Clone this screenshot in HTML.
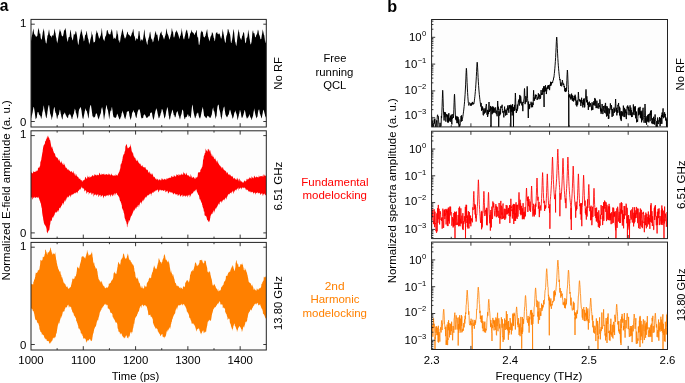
<!DOCTYPE html>
<html><head><meta charset="utf-8"><title>figure</title><style>
html,body{margin:0;padding:0;background:#fff;}
body{width:685px;height:383px;overflow:hidden;position:relative;font-family:"Liberation Sans",sans-serif;}
svg{position:absolute;left:0;top:0;display:block;will-change:transform;}
</style></head><body>
<svg width="685" height="383" viewBox="0 0 685 383" font-family='"Liberation Sans", sans-serif' font-size="11">
<defs>
<clipPath id="cl0"><rect x="31" y="19.4" width="235.3" height="107.6"/></clipPath>
<clipPath id="cr0"><rect x="431.6" y="19.5" width="235.9" height="107.4"/></clipPath>
<clipPath id="cl1"><rect x="31" y="130.8" width="235.3" height="107.6"/></clipPath>
<clipPath id="cr1"><rect x="431.6" y="131.2" width="235.9" height="107.4"/></clipPath>
<clipPath id="cl2"><rect x="31" y="242.4" width="235.3" height="107.6"/></clipPath>
<clipPath id="cr2"><rect x="431.6" y="242.1" width="235.9" height="107.4"/></clipPath>
</defs>
<rect x="31" y="19.4" width="235.3" height="107.6" fill="#fdfdfd"/>
<rect x="431.6" y="19.5" width="235.9" height="107.4" fill="#fdfdfd"/>
<rect x="31" y="130.8" width="235.3" height="107.6" fill="#fdfdfd"/>
<rect x="431.6" y="131.2" width="235.9" height="107.4" fill="#fdfdfd"/>
<rect x="31" y="242.4" width="235.3" height="107.6" fill="#fdfdfd"/>
<rect x="431.6" y="242.1" width="235.9" height="107.4" fill="#fdfdfd"/>
<g clip-path="url(#cl0)">
<polygon fill="#000" points="31,40.95 31.25,39.4 31.5,37.6 31.75,36.45 32,35.28 32.25,34.45 32.5,33 32.75,31.4 33,30.38 33.25,29.13 33.5,28.39 33.75,31.16 34,32.66 34.25,34.16 34.5,34.78 34.75,34.38 35,34.32 35.25,35.41 35.5,35.65 35.75,36.05 36,37.33 36.25,36.87 36.5,36.44 36.75,36.27 37,36.19 37.25,35.98 37.5,34.38 37.75,32.23 38,30.21 38.25,29.59 38.5,27.43 38.75,29 39,29.59 39.25,31.32 39.5,32.94 39.75,33.82 40,33.75 40.25,33.22 40.5,35.47 40.75,38.1 41,38.81 41.25,39.24 41.5,39.68 41.75,39.19 42,38.02 42.25,35.99 42.5,34.8 42.75,32.44 43,31.4 43.25,30.85 43.5,29.48 43.75,28.21 44,30.16 44.25,31.82 44.5,34.28 44.75,36.4 45,38.86 45.25,39.91 45.5,41.1 45.75,42.81 46,42.96 46.25,43.84 46.5,43.03 46.75,41.13 47,39.11 47.25,37.68 47.5,35.07 47.75,35.53 48,35.21 48.25,33.41 48.5,32.02 48.75,30.81 49,29.36 49.25,30.56 49.5,32.8 49.75,34.06 50,35.2 50.25,35.82 50.5,36.37 50.75,35.86 51,35.41 51.25,36.23 51.5,37.21 51.75,37.71 52,36.47 52.25,34.63 52.5,35.61 52.75,35.5 53,35.39 53.25,35.91 53.5,34.69 53.75,34.06 54,32.54 54.25,30.77 54.5,28.59 54.75,29.43 55,30.68 55.25,32.65 55.5,32.94 55.75,35.21 56,36.76 56.25,37.63 56.5,38.82 56.75,41.16 57,41.75 57.25,43.39 57.5,42.1 57.75,40.85 58,39.52 58.25,37.79 58.5,36.18 58.75,34.79 59,33.27 59.25,31.88 59.5,30.99 59.75,29.72 60,28.64 60.25,30.4 60.5,31.4 60.75,31.19 61,32.13 61.25,33.35 61.5,34.72 61.75,35.59 62,36.04 62.25,35.92 62.5,36.68 62.75,35.94 63,36.31 63.25,34.95 63.5,33.92 63.75,32.57 64,30.71 64.25,30.39 64.5,29.86 64.75,30.21 65,28.69 65.25,28.44 65.5,28.2 65.75,30.06 66,31.04 66.25,33.76 66.5,35.48 66.75,37.64 67,39.12 67.25,39.95 67.5,41.38 67.75,41.82 68,40.83 68.25,39.13 68.5,37.11 68.75,37.4 69,37.29 69.25,37.07 69.5,37.04 69.75,35.31 70,32.87 70.25,29.7 70.5,29.9 70.75,31.15 71,32.57 71.25,34.18 71.5,36.69 71.75,37.56 72,38.52 72.25,39.19 72.5,39.92 72.75,40.58 73,39.74 73.25,37.65 73.5,35.99 73.75,34.51 74,33.54 74.25,34.16 74.5,34.2 74.75,35.17 75,34.1 75.25,33.39 75.5,31.42 75.75,31.34 76,31.35 76.25,32.03 76.5,33.24 76.75,34.51 77,35.85 77.25,37.97 77.5,40.14 77.75,42.24 78,44.05 78.25,45.12 78.5,44.57 78.75,42.74 79,40.27 79.25,39.35 79.5,38.56 79.75,36.84 80,35.03 80.25,34.28 80.5,33.26 80.75,32.13 81,29.68 81.25,29.09 81.5,30.77 81.75,31.72 82,32.25 82.25,33.74 82.5,35.03 82.75,35.67 83,37.02 83.25,38.2 83.5,39.05 83.75,41.14 84,41.21 84.25,40.57 84.5,39.32 84.75,37.45 85,35.81 85.25,34.53 85.5,35.27 85.75,34.69 86,33.93 86.25,32.61 86.5,30.78 86.75,31.3 87,32.86 87.25,34.75 87.5,35.68 87.75,37.45 88,38.33 88.25,39.28 88.5,39.59 88.75,41.39 89,43.3 89.25,44.73 89.5,43.31 89.75,42.56 90,41.94 90.25,39.93 90.5,38.94 90.75,38.15 91,37.1 91.25,36.52 91.5,34.11 91.75,30.56 92,33.42 92.25,34.67 92.5,34.4 92.75,35.68 93,38.09 93.25,40.26 93.5,41.82 93.75,42.39 94,42.76 94.25,41.82 94.5,42.07 94.75,42.32 95,41.5 95.25,39.67 95.5,37.05 95.75,34.53 96,33.7 96.25,32.92 96.5,31.39 96.75,29.95 97,31.37 97.25,32.51 97.5,33.03 97.75,32.81 98,34.53 98.25,35.62 98.5,36.23 98.75,37.11 99,38.79 99.25,38.74 99.5,38.07 99.75,37.66 100,37.18 100.25,36.35 100.5,36.03 100.75,35.29 101,34.02 101.25,32.76 101.5,30.58 101.75,27.73 102,29.59 102.25,32.68 102.5,35.01 102.75,36.61 103,38.33 103.25,39.03 103.5,39.56 103.75,40.02 104,40.48 104.25,41.54 104.5,39.98 104.75,39.13 105,37.44 105.25,37.1 105.5,36.23 105.75,35.65 106,35.7 106.25,34.44 106.5,32.93 106.75,30.42 107,30.7 107.25,30.11 107.5,29.95 107.75,30.41 108,31.98 108.25,32.48 108.5,33.18 108.75,34.1 109,34.21 109.25,34.26 109.5,34.08 109.75,34.54 110,34.8 110.25,34.23 110.5,33.96 110.75,32.24 111,32.01 111.25,30.68 111.5,30.22 111.75,28.64 112,29.78 112.25,31.14 112.5,32.69 112.75,34.49 113,36.12 113.25,37.16 113.5,38.63 113.75,38.88 114,38.22 114.25,37.38 114.5,37.74 114.75,38.18 115,39.19 115.25,38.87 115.5,38.69 115.75,38.04 116,36.83 116.25,35.83 116.5,33.39 116.75,30.55 117,29.99 117.25,31.6 117.5,33.58 117.75,34.41 118,34.36 118.25,37.61 118.5,40.07 118.75,40.84 119,40.62 119.25,39.88 119.5,42.34 119.75,42.83 120,42.2 120.25,40.33 120.5,38.35 120.75,36.71 121,35.42 121.25,34.75 121.5,33.27 121.75,32.21 122,30.8 122.25,28.71 122.5,29 122.75,30.38 123,31.35 123.25,32.59 123.5,33.9 123.75,34.75 124,35.73 124.25,36.53 124.5,37.74 124.75,38.33 125,38.55 125.25,38.45 125.5,38.08 125.75,36.83 126,37.13 126.25,35.74 126.5,34.79 126.75,34.23 127,33.03 127.25,31.97 127.5,31.69 127.75,31.81 128,33.62 128.25,34.64 128.5,34.26 128.75,34.46 129,34.63 129.25,35.45 129.5,34.79 129.75,35.47 130,36.31 130.25,36.89 130.5,36.25 130.75,36.26 131,35.72 131.25,35.35 131.5,34.8 131.75,33.56 132,32.65 132.25,32.81 132.5,32.09 132.75,31.21 133,29.13 133.25,28.76 133.5,30.61 133.75,32.45 134,34.79 134.25,36.03 134.5,36 134.75,36.95 135,37.61 135.25,39.24 135.5,40.22 135.75,40.89 136,40.35 136.25,38.49 136.5,37.83 136.75,38.75 137,38.75 137.25,39.39 137.5,39.12 137.75,38.67 138,37.06 138.25,35.72 138.5,33.17 138.75,30.94 139,31 139.25,30.92 139.5,31.95 139.75,34.89 140,36.35 140.25,39.03 140.5,39.95 140.75,41.46 141,40.45 141.25,40.1 141.5,38.86 141.75,39.75 142,39.76 142.25,40.63 142.5,40.38 142.75,39.49 143,38.9 143.25,37.74 143.5,35.71 143.75,33.94 144,31.2 144.25,30.36 144.5,29.11 144.75,32.72 145,35.68 145.25,36.95 145.5,37.95 145.75,38.63 146,39.61 146.25,41.42 146.5,41.87 146.75,43.09 147,44.29 147.25,44.87 147.5,44.58 147.75,41.35 148,40.23 148.25,39.71 148.5,38.45 148.75,37.75 149,37.09 149.25,36.3 149.5,34.29 149.75,32.73 150,31.77 150.25,31.8 150.5,33.63 150.75,34.93 151,37.62 151.25,38.29 151.5,39.32 151.75,39.3 152,39.36 152.25,39.45 152.5,40.64 152.75,42.33 153,42.27 153.25,41.53 153.5,41.02 153.75,38.98 154,37.82 154.25,37.4 154.5,36.21 154.75,34.48 155,33.21 155.25,32.65 155.5,31.82 155.75,30.84 156,32.01 156.25,33.77 156.5,34.61 156.75,35.23 157,34.79 157.25,34.31 157.5,35.54 157.75,37.29 158,39.07 158.25,40.07 158.5,41.33 158.75,41.15 159,39.51 159.25,37.83 159.5,36.73 159.75,35.3 160,34.43 160.25,33.49 160.5,32.79 160.75,32.84 161,32.31 161.25,31.22 161.5,31.67 161.75,34.25 162,34.74 162.25,35.29 162.5,35.35 162.75,35.28 163,36.78 163.25,37.2 163.5,38.17 163.75,38.52 164,39.82 164.25,38.83 164.5,38.28 164.75,37.36 165,36.26 165.25,35.79 165.5,34.7 165.75,33.78 166,32.03 166.25,29.52 166.5,28.3 166.75,29.85 167,31.53 167.25,33.12 167.5,34.11 167.75,33.86 168,34.88 168.25,35.19 168.5,36.05 168.75,36.89 169,37.9 169.25,39.62 169.5,39.55 169.75,38.65 170,38 170.25,36.97 170.5,36.55 170.75,34.9 171,34.23 171.25,33.58 171.5,31.12 171.75,28.48 172,28.29 172.25,29.96 172.5,31.43 172.75,31.71 173,31.31 173.25,33.83 173.5,36.1 173.75,37.5 174,37.35 174.25,37.52 174.5,36.21 174.75,35.59 175,34.12 175.25,32.96 175.5,32 175.75,31.64 176,31.71 176.25,31.48 176.5,30.78 176.75,30.04 177,31.04 177.25,32.18 177.5,32.59 177.75,32.76 178,33.81 178.25,34.56 178.5,35.21 178.75,36.17 179,37.35 179.25,39.03 179.5,38.45 179.75,37.6 180,36.14 180.25,35.91 180.5,35.59 180.75,34.45 181,33.33 181.25,32.16 181.5,30.61 181.75,27.76 182,30.41 182.25,32.09 182.5,33.81 182.75,34.97 183,36.42 183.25,38.01 183.5,38.47 183.75,39.22 184,39.59 184.25,39.06 184.5,37.59 184.75,36.52 185,35.66 185.25,34.53 185.5,33.22 185.75,31.91 186,31.18 186.25,30.89 186.5,29.8 186.75,29.68 187,29.87 187.25,31.1 187.5,32.65 187.75,33.06 188,34.5 188.25,36.66 188.5,38.53 188.75,38.83 189,39.01 189.25,38.11 189.5,36.43 189.75,36.27 190,34.41 190.25,33.49 190.5,32.92 190.75,32.7 191,32.18 191.25,31.59 191.5,30.57 191.75,29.6 192,31.4 192.25,32.04 192.5,32.5 192.75,32.36 193,32.77 193.25,32.87 193.5,33.3 193.75,33.21 194,34.37 194.25,35.17 194.5,34.81 194.75,34.6 195,33.64 195.25,32.94 195.5,32.03 195.75,32.88 196,31.87 196.25,30.41 196.5,29.66 196.75,30.69 197,34.17 197.25,35.94 197.5,37.68 197.75,37.26 198,36.62 198.25,38.87 198.5,41.62 198.75,44.15 199,45.05 199.25,45.1 199.5,44 199.75,41.92 200,40.43 200.25,37.69 200.5,35.08 200.75,32.38 201,32.54 201.25,31.7 201.5,31.29 201.75,30.34 202,31.59 202.25,32.07 202.5,32.18 202.75,30.94 203,33.53 203.25,34.9 203.5,36.31 203.75,36.95 204,36.95 204.25,37.54 204.5,37.58 204.75,37.31 205,36.41 205.25,36.03 205.5,36.05 205.75,34.17 206,33.45 206.25,32.34 206.5,31.44 206.75,30.54 207,29.26 207.25,29.52 207.5,32.65 207.75,34.29 208,36.47 208.25,37.09 208.5,37.52 208.75,38.7 209,39.45 209.25,40.61 209.5,41.5 209.75,40.4 210,39.25 210.25,37.91 210.5,36.76 210.75,36.34 211,36.28 211.25,35.15 211.5,35.17 211.75,33.65 212,31.48 212.25,32.63 212.5,32.85 212.75,33.49 213,33.57 213.25,35.51 213.5,36.41 213.75,37.98 214,37.65 214.25,38.96 214.5,40.93 214.75,41.28 215,40.15 215.25,38.44 215.5,35.95 215.75,34.1 216,33.04 216.25,32.77 216.5,32.3 216.75,32.42 217,33.08 217.25,31.75 217.5,33.84 217.75,34.1 218,34.35 218.25,34.48 218.5,33.98 218.75,33.85 219,33.3 219.25,33.38 219.5,33.83 219.75,34.26 220,35.02 220.25,36.3 220.5,36.81 220.75,37.74 221,38.67 221.25,38.52 221.5,37.91 221.75,36.42 222,35.43 222.25,32.83 222.5,31.02 222.75,28.55 223,31.31 223.25,32.14 223.5,34.1 223.75,34.84 224,36.59 224.25,38.4 224.5,39.14 224.75,40.79 225,41.93 225.25,42.4 225.5,43.27 225.75,41.48 226,38.76 226.25,36.88 226.5,35.74 226.75,35.26 227,34.84 227.25,33.34 227.5,32.37 227.75,29.08 228,29.22 228.25,29.13 228.5,29.86 228.75,30.76 229,31.95 229.25,32.1 229.5,32.92 229.75,33.73 230,33.95 230.25,35.78 230.5,37.75 230.75,41.18 231,42.82 231.25,43.31 231.5,42.73 231.75,41.03 232,40.37 232.25,38.67 232.5,37.27 232.75,34.94 233,33.01 233.25,31.31 233.5,29.78 233.75,29.1 234,31.24 234.25,33.4 234.5,36.43 234.75,38.77 235,41.28 235.25,42.24 235.5,42.31 235.75,43.97 236,45.32 236.25,46.31 236.5,44.64 236.75,43.04 237,40.82 237.25,38.75 237.5,36.22 237.75,34.98 238,32.83 238.25,31.87 238.5,29.85 238.75,29.27 239,31.67 239.25,32.18 239.5,34.33 239.75,36.05 240,37.58 240.25,38.34 240.5,38.37 240.75,39.12 241,39.72 241.25,39.92 241.5,38.71 241.75,38.21 242,36.86 242.25,35.52 242.5,35.93 242.75,34.83 243,33.87 243.25,32.18 243.5,31.84 243.75,32.98 244,32.56 244.25,34.16 244.5,36.46 244.75,38.86 245,41.37 245.25,42.47 245.5,43.05 245.75,43.25 246,42.26 246.25,40.35 246.5,37.9 246.75,37.71 247,37.81 247.25,37.13 247.5,36.35 247.75,34.45 248,31.58 248.25,29.51 248.5,31.55 248.75,33.17 249,34.36 249.25,36.16 249.5,38.46 249.75,39.59 250,41.45 250.25,42.7 250.5,44.6 250.75,44.17 251,43.88 251.25,43.12 251.5,41.93 251.75,39.72 252,37.17 252.25,34.22 252.5,31.69 252.75,31.23 253,29.96 253.25,31.51 253.5,33.29 253.75,33.16 254,32.98 254.25,33.09 254.5,34 254.75,35.1 255,36.64 255.25,36.95 255.5,37.55 255.75,37.03 256,36.3 256.25,35.09 256.5,35.12 256.75,34.34 257,33.75 257.25,33.28 257.5,31.72 257.75,30.33 258,29.39 258.25,30.44 258.5,30.8 258.75,32.64 259,34.21 259.25,35.05 259.5,35.33 259.75,36.21 260,36.64 260.25,38.22 260.5,39.16 260.75,39.2 261,38.99 261.25,38.95 261.5,37.23 261.75,35.51 262,34.26 262.25,33.01 262.5,30.95 262.75,29.26 263,30.5 263.25,31.71 263.5,32.73 263.75,33.9 264,35.31 264.25,35.01 264.5,37.14 264.75,38.72 265,41.24 265.25,43.23 265.5,42.74 265.75,41.59 266,39.62 266.25,38.79 266.25,117.14 266,117.99 265.75,116.8 265.5,116.66 265.25,116.36 265,115.44 264.75,113.87 264.5,113.43 264.25,111.98 264,111.16 263.75,109.53 263.5,110.35 263.25,110.15 263,111.24 262.75,113.05 262.5,114.02 262.25,115.24 262,116.82 261.75,117.72 261.5,118.5 261.25,118.11 261,116.47 260.75,115.78 260.5,115.38 260.25,114.19 260,113.89 259.75,113.07 259.5,111.06 259.25,109.93 259,108.96 258.75,110.01 258.5,109.94 258.25,111.24 258,112.19 257.75,114.36 257.5,116.24 257.25,116.95 257,117.06 256.75,118.16 256.5,118.22 256.25,117.4 256,116.67 255.75,115.82 255.5,114.96 255.25,114.05 255,112.64 254.75,111.37 254.5,110.45 254.25,108.28 254,109.99 253.75,111.22 253.5,112.42 253.25,114 253,115.91 252.75,116.56 252.5,116.99 252.25,118.08 252,118.51 251.75,119.88 251.5,119.93 251.25,118.74 251,117.93 250.75,117.88 250.5,117.27 250.25,116.85 250,116.13 249.75,115.03 249.5,114.22 249.25,114.46 249,116.1 248.75,115.85 248.5,117 248.25,117.39 248,117.04 247.75,117.69 247.5,118.13 247.25,118.04 247,119.05 246.75,117.98 246.5,117.47 246.25,116.5 246,115.93 245.75,114.71 245.5,113.02 245.25,111.71 245,110.94 244.75,109.95 244.5,110.12 244.25,111.39 244,112.84 243.75,113.58 243.5,114.58 243.25,115.33 243,116.11 242.75,116.67 242.5,117.39 242.25,117.87 242,117.43 241.75,117.91 241.5,116.84 241.25,115.66 241,113.68 240.75,112.14 240.5,111.83 240.25,110.83 240,109.61 239.75,110.84 239.5,112.28 239.25,113.65 239,114.09 238.75,115.87 238.5,116.49 238.25,117.52 238,118.54 237.75,120.25 237.5,119.6 237.25,118.31 237,116.08 236.75,115.01 236.5,113.71 236.25,113.62 236,112.71 235.75,111.91 235.5,111.09 235.25,110.37 235,111.88 234.75,111.87 234.5,112.83 234.25,113.34 234,114.48 233.75,115.83 233.5,116.83 233.25,117.13 233,118.6 232.75,118.86 232.5,118.02 232.25,117.62 232,115.73 231.75,115.22 231.5,114.39 231.25,113.78 231,113.04 230.75,111.64 230.5,110.78 230.25,110.22 230,109.39 229.75,110.19 229.5,110.82 229.25,111.98 229,113.48 228.75,114.28 228.5,114.91 228.25,114.87 228,115.62 227.75,115.63 227.5,116.68 227.25,117.09 227,117.59 226.75,117.02 226.5,116.51 226.25,116.31 226,115.81 225.75,115.1 225.5,114.79 225.25,113.17 225,111.61 224.75,110.13 224.5,107.65 224.25,106.44 224,106.81 223.75,107.43 223.5,108.03 223.25,109.49 223,110.45 222.75,111.1 222.5,112.72 222.25,114.76 222,116.45 221.75,117.74 221.5,119.56 221.25,119.24 221,117.28 220.75,116.43 220.5,114.48 220.25,112.84 220,111.83 219.75,111.12 219.5,109.77 219.25,109.42 219,107.81 218.75,105.29 218.5,104.85 218.25,104.58 218,105.27 217.75,105.41 217.5,106.45 217.25,108.31 217,110.68 216.75,113.43 216.5,116.09 216.25,116.57 216,117.04 215.75,118.77 215.5,118.6 215.25,116.71 215,115.08 214.75,113.74 214.5,112.13 214.25,111.46 214,110.92 213.75,110.64 213.5,109.96 213.25,107.54 213,107.75 212.75,108.99 212.5,109.52 212.25,111.36 212,113.17 211.75,114.8 211.5,115 211.25,116.21 211,116.21 210.75,117.16 210.5,118.04 210.25,117.51 210,118.17 209.75,117.79 209.5,117.29 209.25,117.37 209,116.16 208.75,116.73 208.5,116.17 208.25,116.38 208,116.08 207.75,115.88 207.5,115.57 207.25,116.3 207,116.9 206.75,117.63 206.5,118.43 206.25,117.63 206,117.42 205.75,117.63 205.5,117.6 205.25,117.02 205,116.54 204.75,116.3 204.5,116.44 204.25,115.95 204,115.23 203.75,113.05 203.5,111.25 203.25,109.49 203,108.34 202.75,106.76 202.5,108.08 202.25,108.93 202,109.85 201.75,111.38 201.5,112.35 201.25,113.8 201,114.75 200.75,116.39 200.5,117.01 200.25,118.14 200,118.42 199.75,118.18 199.5,118.29 199.25,117.2 199,116.68 198.75,116.09 198.5,114.72 198.25,113.37 198,112.57 197.75,112.41 197.5,113.38 197.25,113.32 197,113.61 196.75,113.41 196.5,114.85 196.25,115.91 196,115.97 195.75,116.93 195.5,117.76 195.25,118.19 195,118.56 194.75,117.18 194.5,115.97 194.25,115.23 194,114.07 193.75,113.01 193.5,111.52 193.25,110.32 193,108.36 192.75,105.84 192.5,104.6 192.25,105.39 192,106.51 191.75,108.93 191.5,111.26 191.25,113.6 191,116 190.75,117.23 190.5,117.69 190.25,117.97 190,117.7 189.75,115.77 189.5,115.86 189.25,116.23 189,116.3 188.75,117.37 188.5,115.67 188.25,114.75 188,114.15 187.75,114.31 187.5,114.71 187.25,115.36 187,116.54 186.75,116.4 186.5,117.25 186.25,117.25 186,116.82 185.75,117.26 185.5,117.32 185.25,117.96 185,119.47 184.75,119.11 184.5,118.94 184.25,117.77 184,116.67 183.75,115.43 183.5,113.62 183.25,111.09 183,110.43 182.75,109.84 182.5,109.51 182.25,110.06 182,111.31 181.75,112.93 181.5,114 181.25,114.69 181,115.62 180.75,116.02 180.5,117.45 180.25,118.54 180,119.72 179.75,118.73 179.5,118.09 179.25,117.29 179,115.8 178.75,116.09 178.5,114.77 178.25,114.28 178,112.88 177.75,112.02 177.5,110.77 177.25,111.57 177,111.89 176.75,112.04 176.5,112.64 176.25,113.61 176,114.89 175.75,116.21 175.5,117.08 175.25,117.29 175,117.56 174.75,116.9 174.5,115.82 174.25,115.03 174,114.99 173.75,115.2 173.5,113.13 173.25,112.66 173,111.37 172.75,110.66 172.5,109.96 172.25,109.59 172,110.83 171.75,112.23 171.5,112.76 171.25,113.78 171,114.26 170.75,115.75 170.5,116.47 170.25,118.29 170,118.92 169.75,120.11 169.5,118.86 169.25,118.51 169,116.33 168.75,115.42 168.5,113.6 168.25,111.85 168,109.66 167.75,108.85 167.5,107.54 167.25,107.34 167,107.99 166.75,109.83 166.5,110.52 166.25,111.36 166,113.1 165.75,114.43 165.5,115.8 165.25,116.84 165,117.13 164.75,118.35 164.5,118.44 164.25,117.86 164,116.61 163.75,114.77 163.5,113.94 163.25,112.5 163,111.67 162.75,110.5 162.5,109.76 162.25,109.24 162,109.07 161.75,109.3 161.5,110.9 161.25,112.29 161,112.8 160.75,113.31 160.5,114.58 160.25,115.5 160,115.98 159.75,116.4 159.5,117.38 159.25,117.64 159,118.42 158.75,118.19 158.5,117.47 158.25,116.34 158,114.88 157.75,113.92 157.5,112.73 157.25,111.33 157,110.33 156.75,109.69 156.5,108.87 156.25,108.58 156,108.77 155.75,110.68 155.5,110.6 155.25,111.97 155,113.21 154.75,114.11 154.5,115.45 154.25,117.19 154,118.04 153.75,118.88 153.5,119.61 153.25,119.88 153,118.75 152.75,117.56 152.5,116.41 152.25,115.01 152,113.21 151.75,112.61 151.5,112.43 151.25,112.47 151,112.58 150.75,113 150.5,112.71 150.25,112.99 150,114.43 149.75,115.39 149.5,116.09 149.25,116.55 149,116.33 148.75,116.35 148.5,116.45 148.25,116.5 148,116.86 147.75,117.2 147.5,117.66 147.25,117.55 147,118.11 146.75,117.72 146.5,117.74 146.25,117.81 146,116.8 145.75,116.44 145.5,115.54 145.25,115.61 145,114.66 144.75,114.75 144.5,113.98 144.25,114.6 144,114.8 143.75,115.36 143.5,115.62 143.25,117.16 143,118.38 142.75,117.77 142.5,117.92 142.25,118.11 142,118.78 141.75,118.37 141.5,118.22 141.25,117.47 141,116.8 140.75,114.93 140.5,113.25 140.25,112.47 140,110.94 139.75,110.03 139.5,109.74 139.25,108.93 139,109.27 138.75,109.37 138.5,110.21 138.25,110.05 138,111.32 137.75,111.46 137.5,112.18 137.25,114.11 137,114.81 136.75,116.63 136.5,117.67 136.25,118.32 136,117.58 135.75,117.06 135.5,115.76 135.25,115.25 135,113.27 134.75,112.65 134.5,112.62 134.25,112.28 134,111.87 133.75,110.81 133.5,109.63 133.25,110.93 133,111.87 132.75,111.8 132.5,112.44 132.25,112.73 132,113.72 131.75,115.74 131.5,116.81 131.25,117.94 131,118.51 130.75,119.56 130.5,119.93 130.25,118.8 130,117.55 129.75,116.76 129.5,115.67 129.25,113.83 129,112.44 128.75,111.23 128.5,110.89 128.25,111.25 128,110.91 127.75,111.74 127.5,111.3 127.25,111.67 127,111.63 126.75,112.14 126.5,114.26 126.25,115.02 126,116.61 125.75,117.02 125.5,118.27 125.25,119.03 125,119.13 124.75,118.09 124.5,117.85 124.25,116.94 124,115.44 123.75,114.79 123.5,113.85 123.25,113.28 123,112.36 122.75,111.26 122.5,110.42 122.25,112.16 122,112.85 121.75,112.88 121.5,114.51 121.25,116.25 121,116.53 120.75,117.11 120.5,117.78 120.25,118.42 120,119.07 119.75,119.3 119.5,119.42 119.25,118.93 119,118 118.75,117.69 118.5,116.76 118.25,116.19 118,115.48 117.75,114.76 117.5,113.48 117.25,114.19 117,114.56 116.75,114.86 116.5,116.4 116.25,116.66 116,117.61 115.75,118.01 115.5,117.88 115.25,117.28 115,117.82 114.75,117.75 114.5,117.58 114.25,117.21 114,117.32 113.75,117.36 113.5,116.85 113.25,115.7 113,114.48 112.75,112.54 112.5,110.34 112.25,108.99 112,106.76 111.75,107.46 111.5,108.43 111.25,110.66 111,111.05 110.75,110.35 110.5,111.08 110.25,111.71 110,113.43 109.75,115.67 109.5,117.2 109.25,119.56 109,118.11 108.75,115.87 108.5,113.76 108.25,112.4 108,110.4 107.75,110.01 107.5,109.22 107.25,108.69 107,107.34 106.75,105.79 106.5,104.8 106.25,105.79 106,107.33 105.75,108.83 105.5,110.09 105.25,112.7 105,114.36 104.75,115.6 104.5,117.08 104.25,118.6 104,120.14 103.75,117.9 103.5,115.56 103.25,113.38 103,111.32 102.75,109.65 102.5,108.71 102.25,107.52 102,107.02 101.75,108.15 101.5,108.41 101.25,109.63 101,112.43 100.75,113.33 100.5,114.1 100.25,114.58 100,115.11 99.75,116.33 99.5,116.57 99.25,117.45 99,118.82 98.75,119.16 98.5,119.61 98.25,118.14 98,117.85 97.75,117.36 97.5,115.99 97.25,115.23 97,114.36 96.75,113.79 96.5,113.74 96.25,112.97 96,113.57 95.75,114.05 95.5,114.89 95.25,116.32 95,116.42 94.75,117.22 94.5,117.05 94.25,117.62 94,117.36 93.75,117.47 93.5,117.64 93.25,116.42 93,116.55 92.75,116.37 92.5,116.4 92.25,113.91 92,112.43 91.75,110.47 91.5,108.65 91.25,107.37 91,105.22 90.75,105.39 90.5,104.78 90.25,106.05 90,106.6 89.75,108.3 89.5,109.99 89.25,112.29 89,114.41 88.75,116.63 88.5,118.26 88.25,118.45 88,116.72 87.75,115.29 87.5,113.7 87.25,113.3 87,112.05 86.75,110.93 86.5,111.06 86.25,110.53 86,109.92 85.75,108.09 85.5,109.34 85.25,109.59 85,110.67 84.75,111.37 84.5,113.1 84.25,114.11 84,115.34 83.75,116.72 83.5,117.67 83.25,118.96 83,119.33 82.75,118.37 82.5,117.75 82.25,116.24 82,114.83 81.75,112.79 81.5,110.66 81.25,109.45 81,108.26 80.75,107.19 80.5,107.32 80.25,107.35 80,108.24 79.75,108.48 79.5,108.64 79.25,109.26 79,110.15 78.75,111.28 78.5,113.39 78.25,115.79 78,117.87 77.75,118.56 77.5,119.11 77.25,117.58 77,116.76 76.75,115.39 76.5,114.41 76.25,113.23 76,113.25 75.75,112.23 75.5,110.14 75.25,109.7 75,109.15 74.75,108.54 74.5,110.56 74.25,111.21 74,112.79 73.75,114.25 73.5,114.34 73.25,114.78 73,115.76 72.75,116.9 72.5,117.28 72.25,119.26 72,119.01 71.75,119.09 71.5,118.05 71.25,116.65 71,116.17 70.75,115.17 70.5,115.15 70.25,114.48 70,113.97 69.75,113.62 69.5,114.17 69.25,114.72 69,114.94 68.75,114.77 68.5,115.13 68.25,116.3 68,118.25 67.75,117.92 67.5,117.82 67.25,117.77 67,116.66 66.75,116.95 66.5,116.48 66.25,115.52 66,115.49 65.75,114.98 65.5,114.31 65.25,113.87 65,112.79 64.75,112.4 64.5,112.84 64.25,113.57 64,113.97 63.75,114.05 63.5,114.33 63.25,115.03 63,115.59 62.75,117.84 62.5,119.91 62.25,118.79 62,118.89 61.75,117.59 61.5,117.28 61.25,115.91 61,114.34 60.75,113.92 60.5,112.28 60.25,110.84 60,109.73 59.75,109.69 59.5,111.23 59.25,112.27 59,113.95 58.75,114.69 58.5,114.88 58.25,114.98 58,115.94 57.75,116.6 57.5,117.97 57.25,118.81 57,118.93 56.75,117.47 56.5,115.85 56.25,114.6 56,113.11 55.75,113.19 55.5,112.74 55.25,111.45 55,110.88 54.75,108.74 54.5,107 54.25,107.22 54,107.89 53.75,108.93 53.5,110.16 53.25,112.24 53,114.32 52.75,115.75 52.5,116.72 52.25,117.19 52,118.84 51.75,120.19 51.5,118.58 51.25,117.11 51,115.88 50.75,115.33 50.5,114.37 50.25,114.12 50,112.76 49.75,110.2 49.5,108.16 49.25,106.1 49,104.64 48.75,105.36 48.5,106.12 48.25,107.12 48,108.11 47.75,110.35 47.5,111.5 47.25,114.1 47,115.31 46.75,116.92 46.5,117.89 46.25,118.33 46,117.4 45.75,116.3 45.5,114.89 45.25,113.62 45,112.2 44.75,111.62 44.5,110.06 44.25,108.65 44,107 43.75,105.26 43.5,106.46 43.25,108.95 43,109.96 42.75,111.31 42.5,111.95 42.25,113.34 42,115.64 41.75,116.52 41.5,118.05 41.25,118.77 41,118.77 40.75,116.78 40.5,116.41 40.25,115.6 40,115.82 39.75,115.32 39.5,114.54 39.25,114.98 39,114.55 38.75,113.4 38.5,112.27 38.25,112.36 38,112.09 37.75,111.99 37.5,112.41 37.25,114.02 37,115.61 36.75,117.62 36.5,118.36 36.25,118.09 36,119.29 35.75,119.13 35.5,118.24 35.25,116.2 35,114.28 34.75,112.6 34.5,110.85 34.25,109.16 34,107.61 33.75,107.31 33.5,106.77 33.25,108.4 33,109.62 32.75,111.49 32.5,112.89 32.25,113.81 32,115.21 31.75,115.59 31.5,116.69 31.25,117.96 31,118.3"/>
</g>
<g clip-path="url(#cl1)">
<polygon fill="#ff0000" points="31,172.44 31.2,172.08 31.4,172.3 31.6,172.83 31.8,172.75 32,172.99 32.2,173.24 32.4,172.69 32.6,173.39 32.8,173.35 33,173.47 33.2,171.06 33.4,170.89 33.6,171.93 33.8,171.63 34,172.09 34.2,171.73 34.4,171.88 34.6,171.8 34.8,172.11 35,172.3 35.2,171.67 35.4,171.72 35.6,171.84 35.8,170.88 36,170.57 36.2,170.22 36.4,170.98 36.6,170.91 36.8,171.69 37,171.1 37.2,170.33 37.4,171.09 37.6,170.24 37.8,170.55 38,167.19 38.2,168.03 38.4,167.37 38.6,168.38 38.8,167.19 39,168.17 39.2,167.85 39.4,167.06 39.6,166.67 39.8,166.17 40,166.25 40.2,165.02 40.4,161.69 40.6,161.41 40.8,161.5 41,160.34 41.2,160.34 41.4,158.57 41.6,157.23 41.8,156.26 42,155.01 42.2,153.72 42.4,152.41 42.6,151.95 42.8,149.66 43,148.38 43.2,147.24 43.4,146.41 43.6,145.1 43.8,145.67 44,145.1 44.2,145.26 44.4,143.99 44.6,144.07 44.8,143.71 45,142.72 45.2,141.1 45.4,141.18 45.6,141 45.8,140.72 46,139.23 46.2,139.84 46.4,138.82 46.6,138.96 46.8,137.61 47,137.41 47.2,137.4 47.4,137.73 47.6,135.85 47.8,136.32 48,135.27 48.2,136.13 48.4,137.13 48.6,136.8 48.8,137.96 49,137.55 49.2,138.54 49.4,138.41 49.6,140.31 49.8,139.85 50,139.69 50.2,140.61 50.4,141.42 50.6,142.73 50.8,143.67 51,144.96 51.2,146.09 51.4,146.7 51.6,147.42 51.8,147.36 52,147.9 52.2,146.22 52.4,147.2 52.6,148.97 52.8,148.74 53,149.77 53.2,150.64 53.4,150.99 53.6,151.87 53.8,152.31 54,153.01 54.2,153.14 54.4,153.36 54.6,153.02 54.8,153.51 55,154.35 55.2,154.41 55.4,156.02 55.6,156.52 55.8,156.52 56,156.69 56.2,157.67 56.4,156.85 56.6,157.86 56.8,156.99 57,157.52 57.2,158.01 57.4,157.73 57.6,157.55 57.8,158.39 58,158.63 58.2,159.43 58.4,159.96 58.6,160.63 58.8,159.98 59,158.94 59.2,159.1 59.4,160.62 59.6,160.62 59.8,160.68 60,161.44 60.2,161.8 60.4,162.63 60.6,162.14 60.8,162.82 61,163.03 61.2,162.77 61.4,160.4 61.6,161.14 61.8,161.97 62,162.61 62.2,163.34 62.4,163.96 62.6,163.16 62.8,164.72 63,164.2 63.2,164.98 63.4,164.54 63.6,165.27 63.8,163.08 64,162.61 64.2,164.39 64.4,163.72 64.6,164.97 64.8,165.04 65,166.05 65.2,165.97 65.4,166.93 65.6,167.5 65.8,167.61 66,168.26 66.2,167.9 66.4,167.38 66.6,167.54 66.8,168.67 67,168.01 67.2,169.5 67.4,168.63 67.6,170.06 67.8,169.21 68,170.24 68.2,169.57 68.4,170.66 68.6,169.02 68.8,169.1 69,170.5 69.2,170.32 69.4,170.92 69.6,171.08 69.8,170.33 70,170.56 70.2,171.62 70.4,171.98 70.6,171.21 70.8,172.35 71,171.28 71.2,171.06 71.4,171.32 71.6,171.32 71.8,171.63 72,171.82 72.2,172.37 72.4,172.69 72.6,172.5 72.8,172.51 73,173.44 73.2,173.16 73.4,170.44 73.6,171.23 73.8,171.8 74,173.36 74.2,173.06 74.4,174 74.6,173.49 74.8,174.76 75,175.43 75.2,175.45 75.4,175.7 75.6,175.41 75.8,172.94 76,174.32 76.2,173.99 76.4,174.87 76.6,175.74 76.8,175.58 77,176.15 77.2,175.86 77.4,177.06 77.6,176.61 77.8,177 78,177.17 78.2,177 78.4,176.95 78.6,178.15 78.8,178.23 79,178.72 79.2,178.69 79.4,178.35 79.6,178.75 79.8,179.08 80,179.1 80.2,179.69 80.4,180.36 80.6,180.19 80.8,178.05 81,179.39 81.2,180.22 81.4,179.97 81.6,179.99 81.8,181.23 82,181.32 82.2,181.69 82.4,181.36 82.6,181.64 82.8,180.33 83,180.52 83.2,180.43 83.4,180.65 83.6,179.81 83.8,180.26 84,179.75 84.2,180.34 84.4,179.3 84.6,179.29 84.8,180.27 85,176.96 85.2,176.67 85.4,177.11 85.6,177.5 85.8,177.56 86,177.59 86.2,178.85 86.4,177.87 86.6,178.68 86.8,178.66 87,178.67 87.2,178.02 87.4,175.12 87.6,176.15 87.8,177.04 88,176.49 88.2,176.51 88.4,177.13 88.6,176.85 88.8,177.22 89,177.86 89.2,177.2 89.4,177.47 89.6,177.71 89.8,175.87 90,175.99 90.2,177.25 90.4,177.19 90.6,177.27 90.8,176.87 91,176.84 91.2,176.29 91.4,176.47 91.6,176.27 91.8,176.82 92,176.62 92.2,174.85 92.4,174.89 92.6,175.81 92.8,175.32 93,175.23 93.2,175.6 93.4,176.47 93.6,176.27 93.8,176.07 94,175.64 94.2,175.94 94.4,173.86 94.6,174.46 94.8,174.81 95,174.33 95.2,175.15 95.4,175.05 95.6,174.6 95.8,174.84 96,175.36 96.2,175.98 96.4,174.81 96.6,175.51 96.8,175.1 97,174.25 97.2,175.18 97.4,174.89 97.6,174.48 97.8,174.8 98,175.62 98.2,175.5 98.4,174.93 98.6,175.1 98.8,175 99,174.56 99.2,173.36 99.4,172.61 99.6,172.92 99.8,173.08 100,174.52 100.2,174.7 100.4,174.49 100.6,174.46 100.8,174.64 101,174.42 101.2,175.19 101.4,174.73 101.6,173.58 101.8,173.64 102,173.77 102.2,173.93 102.4,174.23 102.6,174.41 102.8,174.35 103,173.94 103.2,173.91 103.4,173.85 103.6,174.79 103.8,174.25 104,172.96 104.2,173.95 104.4,174.46 104.6,174.67 104.8,174.8 105,174.8 105.2,173.91 105.4,174.45 105.6,174.78 105.8,174.74 106,174.39 106.2,173.98 106.4,174.12 106.6,174.18 106.8,174.54 107,174.05 107.2,174.04 107.4,175.05 107.6,174.91 107.8,175.03 108,174.22 108.2,174.38 108.4,175.35 108.6,173.43 108.8,173.17 109,174.19 109.2,173.54 109.4,174.42 109.6,174.33 109.8,174.81 110,174.51 110.2,174.93 110.4,175.17 110.6,175.42 110.8,174.94 111,173.4 111.2,173.29 111.4,174.77 111.6,174.13 111.8,174.16 112,174.65 112.2,175.24 112.4,175.27 112.6,175.72 112.8,175.05 113,175.52 113.2,175.73 113.4,175.73 113.6,175.72 113.8,175.39 114,175.08 114.2,174.89 114.4,175.66 114.6,175.62 114.8,175.53 115,175.89 115.2,175.55 115.4,176 115.6,175.31 115.8,173.64 116,174.81 116.2,174.68 116.4,175.49 116.6,174.41 116.8,175.8 117,174.74 117.2,175.82 117.4,175.63 117.6,175.02 117.8,175.29 118,173.49 118.2,173.92 118.4,173.47 118.6,172.39 118.8,173.22 119,171.85 119.2,171.87 119.4,171.63 119.6,171.12 119.8,169.4 120,169.74 120.2,168.52 120.4,167.98 120.6,164.72 120.8,164.19 121,164.35 121.2,164.35 121.4,163.1 121.6,163.2 121.8,162.23 122,160.61 122.2,161.17 122.4,159.28 122.6,158.83 122.8,156.47 123,156.7 123.2,155.29 123.4,155.17 123.6,154.43 123.8,154.06 124,154.14 124.2,153.89 124.4,153.3 124.6,151.83 124.8,151.58 125,150.76 125.2,150.58 125.4,146.21 125.6,146.22 125.8,145.45 126,145.34 126.2,144.52 126.4,144.48 126.6,144.06 126.8,144.48 127,145.4 127.2,146.81 127.4,146.84 127.6,148.32 127.8,148.3 128,148.37 128.2,147.69 128.4,148.5 128.6,147.92 128.8,147.48 129,147.82 129.2,146.89 129.4,146.86 129.6,147.54 129.8,146.84 130,146.31 130.2,145.76 130.4,143.87 130.6,145.06 130.8,146.45 131,146.67 131.2,147.86 131.4,149.04 131.6,150.5 131.8,151.22 132,152.07 132.2,151.79 132.4,152.25 132.6,153.76 132.8,152.52 133,152.68 133.2,153.72 133.4,155.13 133.6,155.63 133.8,156.42 134,156.4 134.2,156.54 134.4,157.56 134.6,157.49 134.8,157.98 135,157.54 135.2,158.12 135.4,158.31 135.6,158.75 135.8,159.63 136,159.9 136.2,159.27 136.4,160.7 136.6,160.9 136.8,161.31 137,160.52 137.2,161.46 137.4,159.23 137.6,160.09 137.8,161 138,160.32 138.2,161.91 138.4,162.39 138.6,162.56 138.8,162.62 139,163.17 139.2,162.97 139.4,164.12 139.6,164.13 139.8,163.13 140,163.83 140.2,163.53 140.4,163.93 140.6,164.43 140.8,164.76 141,166.12 141.2,165.53 141.4,166.03 141.6,166.56 141.8,166.11 142,164.93 142.2,165.37 142.4,165.16 142.6,165.88 142.8,166.51 143,167.1 143.2,166.97 143.4,166.88 143.6,166.5 143.8,167.54 144,167.71 144.2,167.89 144.4,167.51 144.6,166.96 144.8,166.98 145,166.94 145.2,167.09 145.4,167.15 145.6,168.49 145.8,168.29 146,169.42 146.2,169.01 146.4,169.3 146.6,170.26 146.8,169.96 147,169.47 147.2,169.4 147.4,170.49 147.6,169.79 147.8,170.13 148,170.5 148.2,172.15 148.4,171.95 148.6,172.6 148.8,172.55 149,173.38 149.2,173.34 149.4,171.27 149.6,171.36 149.8,172.12 150,172.47 150.2,172.78 150.4,173.62 150.6,174.11 150.8,174.36 151,173.72 151.2,173.91 151.4,174.83 151.6,175.1 151.8,172.99 152,173.72 152.2,173.47 152.4,173.55 152.6,174.41 152.8,174.75 153,174.91 153.2,176.13 153.4,176.25 153.6,176.73 153.8,177.36 154,177.2 154.2,176.61 154.4,176.91 154.6,176.91 154.8,177.46 155,177.66 155.2,177.91 155.4,178.73 155.6,178.85 155.8,178.8 156,179.46 156.2,179.54 156.4,179.18 156.6,180.29 156.8,178.1 157,179.06 157.2,179.26 157.4,178.49 157.6,178.98 157.8,179.76 158,179.25 158.2,180.28 158.4,180.17 158.6,180.64 158.8,179.84 159,179.1 159.2,179.2 159.4,179.5 159.6,180.05 159.8,179.38 160,179.34 160.2,180.24 160.4,179.4 160.6,180.02 160.8,180.6 161,180.52 161.2,180.32 161.4,179.38 161.6,178.53 161.8,178.21 162,178.43 162.2,178.48 162.4,178.83 162.6,178.92 162.8,179.76 163,179.59 163.2,179.52 163.4,180.26 163.6,179.2 163.8,179.64 164,179.03 164.2,179.25 164.4,179.18 164.6,179.04 164.8,178.6 165,179 165.2,179.5 165.4,179.59 165.6,179.36 165.8,179.74 166,179.25 166.2,179.61 166.4,179.64 166.6,177.87 166.8,177.92 167,179.16 167.2,178.25 167.4,178.49 167.6,178.47 167.8,179.07 168,177.89 168.2,178.56 168.4,178.49 168.6,177.93 168.8,177.63 169,178.3 169.2,177.2 169.4,177.5 169.6,178.01 169.8,177.95 170,178.26 170.2,177.65 170.4,177.3 170.6,177.61 170.8,178.21 171,177.61 171.2,177.49 171.4,176.03 171.6,176.05 171.8,175.7 172,176.25 172.2,177.14 172.4,176.06 172.6,177.18 172.8,176.6 173,177.25 173.2,176.43 173.4,177.11 173.6,177.35 173.8,174.81 174,176.25 174.2,175.24 174.4,175.18 174.6,176.41 174.8,176.09 175,175.45 175.2,176.35 175.4,176.14 175.6,176.81 175.8,176.75 176,176.57 176.2,176.02 176.4,174.39 176.6,174.58 176.8,174.2 177,175.12 177.2,174.67 177.4,175.02 177.6,174.65 177.8,174.82 178,175.43 178.2,175.93 178.4,175.85 178.6,173.66 178.8,174.43 179,174.25 179.2,174.3 179.4,174.63 179.6,175.16 179.8,175.6 180,174.46 180.2,174.76 180.4,175.4 180.6,175.03 180.8,174.86 181,173.81 181.2,172.98 181.4,174.47 181.6,173.71 181.8,174.65 182,174.76 182.2,174.85 182.4,174.65 182.6,174.73 182.8,173.94 183,174.48 183.2,174.75 183.4,171.39 183.6,172.43 183.8,172.53 184,173.09 184.2,173.53 184.4,173.1 184.6,173.73 184.8,173.08 185,174.29 185.2,174.56 185.4,174.63 185.6,174.79 185.8,174.74 186,171.95 186.2,173.15 186.4,172.7 186.6,173.88 186.8,173.63 187,174.9 187.2,174.88 187.4,175.31 187.6,174.9 187.8,175.44 188,175.93 188.2,175.77 188.4,175.57 188.6,174.93 188.8,175.52 189,175.37 189.2,176.44 189.4,176.14 189.6,176.79 189.8,176.95 190,176.07 190.2,177.01 190.4,177.38 190.6,174.69 190.8,174 191,174.63 191.2,175.63 191.4,176.53 191.6,176.1 191.8,177.69 192,177.55 192.2,176.79 192.4,178.05 192.6,177.78 192.8,177.58 193,178.38 193.2,176.72 193.4,176.94 193.6,176.79 193.8,177.03 194,177.21 194.2,177.69 194.4,178.2 194.6,178.38 194.8,178.23 195,179.48 195.2,178.69 195.4,178.65 195.6,176.75 195.8,177.62 196,178.35 196.2,177.73 196.4,177.56 196.6,177.09 196.8,177.3 197,177.79 197.2,177.1 197.4,176.78 197.6,176.41 197.8,174.96 198,172.38 198.2,172.11 198.4,172.21 198.6,172.79 198.8,172.57 199,172.65 199.2,172.09 199.4,172.87 199.6,172.29 199.8,172.06 200,172.04 200.2,171.98 200.4,169.5 200.6,169.29 200.8,169.95 201,169.19 201.2,169.09 201.4,167.89 201.6,168.43 201.8,167.25 202,167.34 202.2,167.06 202.4,166.05 202.6,164.68 202.8,163.55 203,160.3 203.2,159.21 203.4,159.41 203.6,157.99 203.8,156.12 204,156 204.2,154.98 204.4,155.24 204.6,154 204.8,152.91 205,153.21 205.2,153.03 205.4,152.02 205.6,149.32 205.8,148.58 206,149.34 206.2,150.45 206.4,150.38 206.6,150.24 206.8,150.69 207,150.79 207.2,151.41 207.4,151.38 207.6,151.18 207.8,148.97 208,149.28 208.2,149.64 208.4,148.8 208.6,148.82 208.8,149.79 209,149.58 209.2,149.63 209.4,150.57 209.6,151.1 209.8,151.33 210,152.37 210.2,149.85 210.4,150.87 210.6,152.35 210.8,153.66 211,153.25 211.2,153.67 211.4,154.29 211.6,155.48 211.8,155.95 212,155.41 212.2,156.65 212.4,156.21 212.6,156.72 212.8,154.47 213,154.85 213.2,156.14 213.4,157.03 213.6,157.02 213.8,157.33 214,158.7 214.2,158.79 214.4,158.72 214.6,158.82 214.8,159.46 215,156.97 215.2,158.23 215.4,158.93 215.6,159.2 215.8,160.37 216,160.47 216.2,161.34 216.4,160.61 216.6,161 216.8,162.43 217,162.56 217.2,162.16 217.4,159.96 217.6,160.56 217.8,161.56 218,162.88 218.2,162.39 218.4,162.93 218.6,164.26 218.8,163.76 219,164.19 219.2,165.23 219.4,165.69 219.6,165.28 219.8,164.38 220,165.15 220.2,165.89 220.4,165.83 220.6,166.72 220.8,166.3 221,167.13 221.2,166.8 221.4,167.07 221.6,168.23 221.8,168.25 222,168.42 222.2,168.39 222.4,166.64 222.6,167.72 222.8,167.32 223,167.37 223.2,168.13 223.4,169.3 223.6,168.98 223.8,169.98 224,169.52 224.2,170.4 224.4,170.31 224.6,170.74 224.8,169.64 225,170.29 225.2,170.83 225.4,171.09 225.6,171.03 225.8,170.8 226,172.2 226.2,171.46 226.4,172.1 226.6,172.9 226.8,173.38 227,173.22 227.2,171.57 227.4,173.13 227.6,172.21 227.8,172.54 228,173.82 228.2,174.36 228.4,174.26 228.6,174.85 228.8,174.73 229,174.14 229.2,175.07 229.4,175.43 229.6,173.83 229.8,174.47 230,174.56 230.2,174.43 230.4,175.82 230.6,175.2 230.8,175.45 231,175.6 231.2,176.14 231.4,176.44 231.6,176.34 231.8,176.46 232,175.98 232.2,175.74 232.4,176.71 232.6,176.48 232.8,176.77 233,176.96 233.2,178.15 233.4,178.27 233.6,178.67 233.8,178.55 234,178.25 234.2,178.21 234.4,177.6 234.6,177.95 234.8,178.68 235,177.96 235.2,178.97 235.4,179.27 235.6,179.45 235.8,179.17 236,179.32 236.2,179.99 236.4,179.31 236.6,179.94 236.8,179.07 237,177.33 237.2,178.08 237.4,178.71 237.6,178.34 237.8,179.61 238,179.64 238.2,179.37 238.4,179.49 238.6,180.21 238.8,181.01 239,181.4 239.2,181.22 239.4,177.73 239.6,179.26 239.8,178.75 240,179.64 240.2,180.42 240.4,180.32 240.6,180.69 240.8,181.14 241,182.06 241.2,181.67 241.4,181.33 241.6,181.85 241.8,180.99 242,181.27 242.2,182.19 242.4,181.87 242.6,182.52 242.8,182.69 243,182.49 243.2,182.6 243.4,182.84 243.6,182.25 243.8,182.08 244,180.44 244.2,180.53 244.4,180.53 244.6,181.03 244.8,180.71 245,181.86 245.2,181.06 245.4,180.5 245.6,181.38 245.8,181.38 246,181.61 246.2,180.5 246.4,180.47 246.6,178.88 246.8,178.87 247,179.07 247.2,179.64 247.4,179.82 247.6,178.48 247.8,179.04 248,179.81 248.2,178.5 248.4,178.9 248.6,179.41 248.8,178.33 249,178.91 249.2,178.13 249.4,177.65 249.6,177.1 249.8,177.4 250,177.92 250.2,177.44 250.4,178.41 250.6,177.9 250.8,178.02 251,178.65 251.2,178.57 251.4,178.64 251.6,176.1 251.8,176.43 252,177.03 252.2,177.09 252.4,177.72 252.6,177.33 252.8,178.17 253,177.32 253.2,178.01 253.4,178.27 253.6,178.54 253.8,177.66 254,175.62 254.2,175.67 254.4,176.06 254.6,175.96 254.8,177.24 255,176.36 255.2,177.8 255.4,177.36 255.6,177.48 255.8,176.98 256,177.71 256.2,176.03 256.4,177.05 256.6,177.07 256.8,176.36 257,177.3 257.2,177.17 257.4,176.75 257.6,177.29 257.8,177.35 258,177.09 258.2,177.37 258.4,177.49 258.6,177.6 258.8,175.7 259,175.05 259.2,176.33 259.4,176.72 259.6,176.24 259.8,176.98 260,176.13 260.2,175.95 260.4,176.56 260.6,176.12 260.8,176.13 261,176.54 261.2,176.23 261.4,175.75 261.6,176.53 261.8,175.97 262,175.99 262.2,175.47 262.4,175.61 262.6,176.74 262.8,176.49 263,176.32 263.2,176.76 263.4,176.39 263.6,173.61 263.8,174.81 264,174.97 264.2,174.37 264.4,175.6 264.6,175.11 264.8,175.88 265,176.02 265.2,176.25 265.4,175.21 265.6,176.1 265.8,175.49 266,175.21 266.2,174.32 266.2,195.09 266,194.8 265.8,195.39 265.6,194.93 265.4,194.9 265.2,195.45 265,193.35 264.8,193.58 264.6,194.58 264.4,193.55 264.2,194.61 264,194.56 263.8,194.1 263.6,193.9 263.4,194.49 263.2,195.29 263,195.92 262.8,195.2 262.6,195.8 262.4,193.11 262.2,193.77 262,193.46 261.8,193.85 261.6,193.15 261.4,193.67 261.2,193.89 261,193.53 260.8,194.07 260.6,194.74 260.4,194.85 260.2,195.23 260,193.51 259.8,192.99 259.6,193.29 259.4,193.2 259.2,192.54 259,192.95 258.8,192.79 258.6,193.17 258.4,193.69 258.2,192.82 258,194.03 257.8,192.33 257.6,192.46 257.4,192.07 257.2,193.23 257,192.44 256.8,193.29 256.6,192.92 256.4,192.67 256.2,192.94 256,193.17 255.8,194.26 255.6,194.59 255.4,194.24 255.2,192.64 255,192.54 254.8,192.38 254.6,192.91 254.4,192.5 254.2,192.72 254,192.74 253.8,193.46 253.6,192.75 253.4,193.25 253.2,194.63 253,192.26 252.8,191.86 252.6,191.9 252.4,192.46 252.2,191.49 252,192.46 251.8,192.51 251.6,191.4 251.4,192.27 251.2,192.36 251,191.93 250.8,192.47 250.6,192.58 250.4,190.76 250.2,191.95 250,191.43 249.8,191.14 249.6,191.85 249.4,191.77 249.2,191.87 249,190.91 248.8,191.14 248.6,190.84 248.4,191.89 248.2,191.41 248,190.07 247.8,189.74 247.6,189.53 247.4,190.37 247.2,190.15 247,190.04 246.8,189.37 246.6,189.34 246.4,189.82 246.2,190.36 246,190.15 245.8,189.37 245.6,189.57 245.4,188.13 245.2,187.89 245,188.55 244.8,187.82 244.6,187.44 244.4,188.04 244.2,187.55 244,187.3 243.8,188.62 243.6,188.02 243.4,187.57 243.2,188.28 243,186.85 242.8,187.41 242.6,187.49 242.4,187.78 242.2,188.21 242,187.42 241.8,188.26 241.6,188.3 241.4,189.43 241.2,189.08 241,189.76 240.8,187.06 240.6,188 240.4,188.37 240.2,187.77 240,188.27 239.8,188.56 239.6,188.24 239.4,189.03 239.2,188.98 239,189.24 238.8,189.87 238.6,191.23 238.4,187.5 238.2,187.6 238,188.45 237.8,188.09 237.6,188.4 237.4,188.91 237.2,189.04 237,189.29 236.8,189.04 236.6,189.82 236.4,189.99 236.2,190.32 236,191.85 235.8,189.96 235.6,189.86 235.4,189.8 235.2,189.76 235,190.18 234.8,191.06 234.6,190.43 234.4,191.73 234.2,191.69 234,192.05 233.8,193.17 233.6,193.56 233.4,193.69 233.2,191.38 233,190.61 232.8,190.81 232.6,191.55 232.4,191.6 232.2,191.97 232,191.86 231.8,191.93 231.6,192.52 231.4,193 231.2,194.09 231,192.48 230.8,192.96 230.6,193.23 230.4,192.42 230.2,192.96 230,193.11 229.8,193.47 229.6,194.36 229.4,193.93 229.2,194.33 229,194.81 228.8,194.3 228.6,194.25 228.4,194.04 228.2,194.13 228,195.26 227.8,194.74 227.6,196.27 227.4,196.57 227.2,196.46 227,196.61 226.8,197.54 226.6,198.39 226.4,199.31 226.2,199.79 226,197.37 225.8,197.81 225.6,197.64 225.4,198.17 225.2,198.29 225,199.21 224.8,199.11 224.6,199.04 224.4,200.19 224.2,200.33 224,200.74 223.8,199.17 223.6,199.96 223.4,199.71 223.2,199.72 223,199.81 222.8,200.78 222.6,200.8 222.4,200.61 222.2,202.01 222,201.7 221.8,201.75 221.6,202.86 221.4,203.36 221.2,200.87 221,201.16 220.8,201.53 220.6,201.3 220.4,201.54 220.2,202.07 220,202.29 219.8,201.97 219.6,203.72 219.4,203.94 219.2,204.38 219,205.13 218.8,202.88 218.6,203.69 218.4,204.33 218.2,204.22 218,205.04 217.8,205.34 217.6,205.69 217.4,206.66 217.2,206.28 217,206.79 216.8,207.53 216.6,208.62 216.4,208.75 216.2,206.78 216,207.95 215.8,208.15 215.6,208.14 215.4,209.31 215.2,209.46 215,209.34 214.8,210.8 214.6,210.88 214.4,212.26 214.2,212.85 214,210.14 213.8,210.19 213.6,210.98 213.4,211.27 213.2,212.45 213,212.5 212.8,212.14 212.6,212.54 212.4,213.88 212.2,213.72 212,214.38 211.8,214.24 211.6,213.35 211.4,214.11 211.2,214.32 211,215.15 210.8,215.73 210.6,215.29 210.4,217.34 210.2,218.1 210,219.19 209.8,220.42 209.6,221.5 209.4,222.56 209.2,220.66 209,220.76 208.8,221.75 208.6,221.33 208.4,222.19 208.2,221.67 208,220.33 207.8,220.71 207.6,219.88 207.4,219.65 207.2,220.3 207,219.52 206.8,218.26 206.6,217.62 206.4,216.58 206.2,216.8 206,216.11 205.8,215.74 205.6,216.41 205.4,215.31 205.2,216.01 205,215.95 204.8,215.13 204.6,215.22 204.4,212.27 204.2,211.31 204,211.72 203.8,211.14 203.6,209.39 203.4,208.36 203.2,208.5 203,207.61 202.8,207.16 202.6,206.66 202.4,204.7 202.2,205.41 202,204.09 201.8,202.69 201.6,202.92 201.4,202.56 201.2,201.69 201,201.79 200.8,200.37 200.6,200.95 200.4,199.7 200.2,199.29 200,199.24 199.8,199.18 199.6,199.5 199.4,197.84 199.2,196.38 199,196 198.8,195.08 198.6,194.69 198.4,194.73 198.2,195.09 198,193.81 197.8,193.87 197.6,192.64 197.4,192.87 197.2,192.1 197,192.33 196.8,191.03 196.6,190.36 196.4,189.41 196.2,188.89 196,190 195.8,189.55 195.6,190.26 195.4,190.11 195.2,191.36 195,191.4 194.8,191.42 194.6,191.16 194.4,190.16 194.2,191.13 194,190.88 193.8,191.97 193.6,191.36 193.4,191.94 193.2,192.42 193,193 192.8,192.95 192.6,193.72 192.4,193.37 192.2,193.78 192,193 191.8,193.47 191.6,193.99 191.4,194.27 191.2,194.35 191,194.4 190.8,195.29 190.6,195.83 190.4,196.11 190.2,196.43 190,197.34 189.8,197.3 189.6,195.22 189.4,194.63 189.2,195.04 189,194.35 188.8,195.7 188.6,195.28 188.4,194.88 188.2,195.98 188,195.75 187.8,197.02 187.6,197.38 187.4,196.83 187.2,195.19 187,194.79 186.8,195.67 186.6,195.49 186.4,196.14 186.2,195.79 186,196.03 185.8,195.49 185.6,196.67 185.4,196.49 185.2,197.25 185,195.29 184.8,195.78 184.6,196.09 184.4,196.21 184.2,195.14 184,195.63 183.8,195.82 183.6,195.47 183.4,196.12 183.2,196.61 183,196.95 182.8,196.78 182.6,196.84 182.4,194.72 182.2,194.56 182,195.78 181.8,195.39 181.6,195.05 181.4,195.45 181.2,194.8 181,196.05 180.8,195.87 180.6,196.17 180.4,196.89 180.2,195.88 180,196.82 179.8,194.67 179.6,194.61 179.4,194.26 179.2,194.61 179,194.6 178.8,194.92 178.6,195.77 178.4,195.85 178.2,195.03 178,195.47 177.8,196.24 177.6,194.89 177.4,194.32 177.2,193.73 177,194.52 176.8,194.87 176.6,194.5 176.4,194.32 176.2,193.83 176,194.87 175.8,193.98 175.6,194.17 175.4,194.85 175.2,194.15 175,193.02 174.8,193.12 174.6,193.36 174.4,194.04 174.2,193.01 174,193.77 173.8,194.12 173.6,193.73 173.4,193.75 173.2,194.65 173,194.75 172.8,192.84 172.6,193.2 172.4,192.79 172.2,192.34 172,192.79 171.8,192.49 171.6,192.57 171.4,192.71 171.2,191.85 171,193.04 170.8,192.03 170.6,191.91 170.4,192.8 170.2,192.47 170,191.28 169.8,191.57 169.6,191.81 169.4,192.54 169.2,191.63 169,192.23 168.8,192.9 168.6,193.03 168.4,192.66 168.2,193.41 168,194.16 167.8,190.86 167.6,190.53 167.4,191.56 167.2,191.6 167,191.27 166.8,190.84 166.6,191.49 166.4,191.55 166.2,191.86 166,192.01 165.8,191.75 165.6,192.33 165.4,192.28 165.2,190.06 165,190.33 164.8,189.75 164.6,190.09 164.4,190.77 164.2,190.8 164,190.4 163.8,191.36 163.6,190.79 163.4,191.03 163.2,190.5 163,190.82 162.8,190.45 162.6,190.1 162.4,190.08 162.2,190.31 162,189.99 161.8,190.19 161.6,190.24 161.4,190.59 161.2,190.69 161,190.6 160.8,190.33 160.6,190.23 160.4,189.42 160.2,189.99 160,189.6 159.8,189.38 159.6,190.61 159.4,190.82 159.2,190.42 159,190.41 158.8,191.65 158.6,192.13 158.4,192.31 158.2,191.99 158,189.4 157.8,189.83 157.6,189.19 157.4,190 157.2,190.37 157,190.14 156.8,190.24 156.6,189.85 156.4,190.31 156.2,191.26 156,190.76 155.8,191.16 155.6,191.45 155.4,190.19 155.2,190.24 155,190.68 154.8,191.44 154.6,191.48 154.4,191.86 154.2,191.78 154,191.57 153.8,193.16 153.6,192.55 153.4,192.97 153.2,191.13 153,192.09 152.8,192.27 152.6,192.99 152.4,192.37 152.2,192.88 152,193.17 151.8,193.69 151.6,193.46 151.4,194.07 151.2,195.69 151,195.99 150.8,193.21 150.6,193.71 150.4,193.56 150.2,194.13 150,193.14 149.8,194.49 149.6,193.97 149.4,193.8 149.2,194.64 149,195.45 148.8,195.1 148.6,195.78 148.4,194.96 148.2,194.68 148,194.72 147.8,195.83 147.6,195.56 147.4,195.19 147.2,195.56 147,195.89 146.8,196.43 146.6,196.92 146.4,196.86 146.2,197.39 146,198.43 145.8,196.9 145.6,196.52 145.4,197.91 145.2,197.33 145,197.62 144.8,198.18 144.6,198.78 144.4,198.83 144.2,199.99 144,199.77 143.8,201.02 143.6,201.5 143.4,199.67 143.2,199.82 143,199.31 142.8,200.3 142.6,201.02 142.4,201.41 142.2,200.66 142,202.08 141.8,201.74 141.6,203.21 141.4,203.22 141.2,204.53 141,201.81 140.8,201.7 140.6,202.75 140.4,202.43 140.2,203.12 140,203.28 139.8,203.92 139.6,204.61 139.4,205.08 139.2,205.86 139,207.32 138.8,207.16 138.6,204.41 138.4,205.23 138.2,205.36 138,205.28 137.8,205.39 137.6,206.2 137.4,207.05 137.2,206.93 137,207.16 136.8,208.54 136.6,208.96 136.4,206.71 136.2,206.83 136,208.04 135.8,207.32 135.6,208.26 135.4,208.7 135.2,208.97 135,208.35 134.8,209.94 134.6,209.82 134.4,210.26 134.2,211.26 134,209.26 133.8,210.23 133.6,211.07 133.4,211.44 133.2,211.73 133,211.59 132.8,213.38 132.6,212.96 132.4,213.67 132.2,214.17 132,215.42 131.8,214.62 131.6,215.95 131.4,215.72 131.2,216.26 131,216.09 130.8,217.1 130.6,217.3 130.4,218.2 130.2,218.39 130,219.88 129.8,219.77 129.6,220.78 129.4,221.84 129.2,220.72 129,219.93 128.8,220.6 128.6,222.35 128.4,222.17 128.2,222.97 128,224.28 127.8,224.11 127.6,224.64 127.4,226.86 127.2,227.07 127,227.51 126.8,223.73 126.6,223.72 126.4,222.21 126.2,221.66 126,220.88 125.8,221.27 125.6,220.44 125.4,219.58 125.2,219.13 125,218.75 124.8,218.36 124.6,217.62 124.4,215.59 124.2,214.03 124,213.27 123.8,213.08 123.6,211.92 123.4,210.86 123.2,210.23 123,210.57 122.8,209.63 122.6,208.81 122.4,208.61 122.2,208.53 122,208.41 121.8,204.74 121.6,205.17 121.4,203.82 121.2,202.91 121,203.38 120.8,201.75 120.6,201.28 120.4,201.62 120.2,201.15 120,200.69 119.8,200.05 119.6,199.28 119.4,197.38 119.2,197.68 119,197.09 118.8,196.22 118.6,196.98 118.4,195.56 118.2,195.93 118,195.65 117.8,194.76 117.6,194.69 117.4,194.6 117.2,195.07 117,195.18 116.8,193.12 116.6,193.57 116.4,193.28 116.2,192.83 116,192.98 115.8,193.41 115.6,193.98 115.4,194.34 115.2,195 115,195.63 114.8,195.46 114.6,192.91 114.4,193.43 114.2,193.58 114,193.89 113.8,193.98 113.6,194.7 113.4,195.21 113.2,195.6 113,195.35 112.8,196.25 112.6,196.11 112.4,196.38 112.2,194.89 112,194.03 111.8,194.75 111.6,194.46 111.4,195.01 111.2,195.54 111,194.84 110.8,195.97 110.6,196.25 110.4,196.93 110.2,196.58 110,194 109.8,195.09 109.6,195.4 109.4,194.51 109.2,195.12 109,194.99 108.8,194.54 108.6,195.16 108.4,195.75 108.2,195.88 108,196.45 107.8,195.41 107.6,194.63 107.4,195.34 107.2,195.85 107,194.86 106.8,195.99 106.6,195.76 106.4,195.51 106.2,195.3 106,196.54 105.8,196.3 105.6,197.01 105.4,196.47 105.2,195.32 105,195.88 104.8,195.87 104.6,196.33 104.4,195.81 104.2,195.86 104,196.64 103.8,197.06 103.6,197.42 103.4,198.37 103.2,198.27 103,196 102.8,195.19 102.6,195.64 102.4,195.2 102.2,195.17 102,195.97 101.8,195.54 101.6,196.43 101.4,195.91 101.2,196.48 101,197.11 100.8,197.11 100.6,195.5 100.4,194.68 100.2,195.01 100,194.7 99.8,195.59 99.6,196.04 99.4,194.93 99.2,195.04 99,195.89 98.8,196.8 98.6,196.83 98.4,197.21 98.2,194.13 98,194.25 97.8,194.85 97.6,194.76 97.4,194.47 97.2,194.82 97,194.25 96.8,194.91 96.6,194.88 96.4,195.74 96.2,195.74 96,195.75 95.8,194.03 95.6,193.83 95.4,194.67 95.2,194.88 95,194.72 94.8,194.5 94.6,194.63 94.4,194.98 94.2,195.02 94,196.31 93.8,196.13 93.6,196.72 93.4,193.22 93.2,193.17 93,193.07 92.8,193.52 92.6,193.82 92.4,193.3 92.2,194.4 92,194.63 91.8,193.63 91.6,194.87 91.4,195.18 91.2,192.26 91,193.25 90.8,192.31 90.6,193.07 90.4,193.31 90.2,192.54 90,192.71 89.8,193.28 89.6,193.34 89.4,193.03 89.2,193.29 89,194.09 88.8,194.99 88.6,191.64 88.4,191.96 88.2,192.06 88,192.21 87.8,191.87 87.6,192.74 87.4,191.77 87.2,192.52 87,192.45 86.8,193.41 86.6,193.18 86.4,194.2 86.2,191.05 86,190.81 85.8,190.43 85.6,190.34 85.4,190.13 85.2,190.4 85,190.8 84.8,190.88 84.6,191.77 84.4,191.21 84.2,189.6 84,189.13 83.8,188.5 83.6,188.44 83.4,188.24 83.2,188.51 83,188.64 82.8,187.68 82.6,187.85 82.4,188.83 82.2,188.28 82,186.74 81.8,186.57 81.6,187.32 81.4,187.96 81.2,187.69 81,187.53 80.8,189 80.6,188.63 80.4,189.7 80.2,189.36 80,189.69 79.8,189.68 79.6,189.28 79.4,189.13 79.2,189.81 79,190.23 78.8,191.06 78.6,190.78 78.4,190.55 78.2,190.93 78,191.24 77.8,192.18 77.6,193.13 77.4,193.38 77.2,192.36 77,191.86 76.8,192.35 76.6,192.29 76.4,192.15 76.2,193.01 76,192.33 75.8,193.32 75.6,192.48 75.4,192.95 75.2,193.85 75,193.3 74.8,192.84 74.6,192.69 74.4,193.39 74.2,193.41 74,193.54 73.8,194.18 73.6,193.25 73.4,194.43 73.2,193.95 73,194.53 72.8,194.35 72.6,194.21 72.4,194.7 72.2,194.85 72,194.38 71.8,194.39 71.6,195.42 71.4,194.36 71.2,195.69 71,195.5 70.8,195.29 70.6,196.75 70.4,196.52 70.2,197.8 70,195.84 69.8,195.25 69.6,195.45 69.4,195.56 69.2,195.82 69,195.98 68.8,197.21 68.6,196.72 68.4,196.85 68.2,197.17 68,198.01 67.8,197.75 67.6,196.39 67.4,196.51 67.2,196.91 67,197.82 66.8,197.45 66.6,198.51 66.4,198.98 66.2,199.53 66,200.38 65.8,200.4 65.6,201.43 65.4,201.49 65.2,199.36 65,199.81 64.8,200.23 64.6,201.4 64.4,201.19 64.2,201.99 64,202.15 63.8,203.26 63.6,203.03 63.4,204.47 63.2,204.29 63,205.43 62.8,202.53 62.6,203.22 62.4,203.31 62.2,204.2 62,205.1 61.8,205.58 61.6,205.19 61.4,205.9 61.2,206.07 61,206.64 60.8,207.21 60.6,208.06 60.4,209.09 60.2,207.08 60,207.57 59.8,208.36 59.6,207.8 59.4,208 59.2,208.28 59,210.04 58.8,209.91 58.6,210.54 58.4,211.32 58.2,212.15 58,209.96 57.8,210.44 57.6,211.35 57.4,211.79 57.2,211.56 57,211.67 56.8,211.77 56.6,212.13 56.4,212.78 56.2,212.36 56,213.05 55.8,212.63 55.6,211.59 55.4,212.4 55.2,212.25 55,213.19 54.8,213.59 54.6,214.38 54.4,215.23 54.2,215.16 54,215.72 53.8,217.36 53.6,218.31 53.4,215.41 53.2,216.18 53,216.92 52.8,217.39 52.6,217.07 52.4,217.65 52.2,218.2 52,218.9 51.8,220.67 51.6,220.77 51.4,221.36 51.2,220.29 51,220.87 50.8,220.27 50.6,221.47 50.4,222.43 50.2,224.47 50,224.5 49.8,226.11 49.6,227.85 49.4,229.22 49.2,230.6 49,229.89 48.8,230.55 48.6,230.87 48.4,231.42 48.2,230.64 48,232.3 47.8,232.96 47.6,233.47 47.4,232.53 47.2,232.42 47,231.99 46.8,231.72 46.6,228.79 46.4,228.52 46.2,227.27 46,227.2 45.8,226.05 45.6,226.58 45.4,225.42 45.2,225.82 45,224.82 44.8,224.49 44.6,224.86 44.4,224.77 44.2,223.72 44,223.02 43.8,222.58 43.6,220.69 43.4,220.39 43.2,219.08 43,217.27 42.8,216.45 42.6,215.4 42.4,214.27 42.2,212.68 42,210.61 41.8,208.06 41.6,207.73 41.4,206.69 41.2,205.75 41,204.23 40.8,203.44 40.6,202.8 40.4,202.79 40.2,201.98 40,200.78 39.8,201.24 39.6,200 39.4,199.32 39.2,199.53 39,197.94 38.8,198.32 38.6,197.71 38.4,197.49 38.2,196.52 38,197.27 37.8,196.72 37.6,198.09 37.4,197.65 37.2,198.36 37,196.66 36.8,197.5 36.6,197.23 36.4,197.77 36.2,196.82 36,197.18 35.8,198.07 35.6,197.52 35.4,197.79 35.2,198.02 35,197.83 34.8,198.22 34.6,196.45 34.4,196.95 34.2,197.49 34,196.96 33.8,197.85 33.6,198.02 33.4,197.47 33.2,197.65 33,199.07 32.8,198.86 32.6,199.3 32.4,200.33 32.2,196.56 32,197.71 31.8,197.35 31.6,197.31 31.4,197.36 31.2,198.13 31,198.14"/>
</g>
<g clip-path="url(#cl2)">
<polygon fill="#ff8000" points="31,283.6 31.2,284.15 31.4,283.59 31.6,284.13 31.8,283.64 32,284.92 32.2,284.07 32.4,283.92 32.6,284.81 32.8,284.1 33,284.15 33.2,284.56 33.4,281.59 33.6,281.75 33.8,281.63 34,280.42 34.2,279.54 34.4,279.66 34.6,278.66 34.8,278.65 35,277.26 35.2,276.92 35.4,274.86 35.6,274.26 35.8,272.2 36,273.14 36.2,272.88 36.4,273.12 36.6,272.78 36.8,272.73 37,272.61 37.2,272.4 37.4,271.85 37.6,272.53 37.8,269.98 38,270.92 38.2,270.46 38.4,269.78 38.6,269.95 38.8,269.75 39,270.41 39.2,269.56 39.4,269.23 39.6,267.66 39.8,266.15 40,265.43 40.2,263.48 40.4,260.58 40.6,259.74 40.8,259.99 41,259.92 41.2,260.6 41.4,260.71 41.6,260.45 41.8,260.55 42,260.51 42.2,260.18 42.4,259.52 42.6,259.77 42.8,256.57 43,257.2 43.2,256.69 43.4,257.31 43.6,257.14 43.8,256.54 44,256.66 44.2,256.54 44.4,255.78 44.6,254.7 44.8,253.77 45,254.09 45.2,249.83 45.4,249.59 45.6,250.03 45.8,249.72 46,250.6 46.2,251.58 46.4,251.91 46.6,252.34 46.8,253.93 47,253.59 47.2,255.1 47.4,254.32 47.6,252.57 47.8,252.82 48,252.15 48.2,252.51 48.4,252.34 48.6,252.28 48.8,252.49 49,251.5 49.2,251.9 49.4,250.62 49.6,250.88 49.8,250.2 50,250.31 50.2,247.82 50.4,248.16 50.6,247.05 50.8,248.13 51,249.45 51.2,250.37 51.4,250.8 51.6,252.18 51.8,252.35 52,253.85 52.2,254.54 52.4,253.98 52.6,255.11 52.8,253.14 53,252.35 53.2,253.57 53.4,253.57 53.6,253.67 53.8,253.46 54,254.2 54.2,253.51 54.4,253.46 54.6,253.68 54.8,254.53 55,253.63 55.2,251.72 55.4,253.63 55.6,255.59 55.8,256.75 56,258.28 56.2,259.82 56.4,260.18 56.6,261.32 56.8,263.07 57,263.42 57.2,264.57 57.4,265.98 57.6,265.84 57.8,267.32 58,267.14 58.2,268.77 58.4,269.1 58.6,269.45 58.8,269.74 59,270.3 59.2,271.35 59.4,271.31 59.6,271.36 59.8,272.43 60,270.94 60.2,271.27 60.4,271.76 60.6,273.48 60.8,274.18 61,274.94 61.2,274.65 61.4,275.46 61.6,277.26 61.8,277.31 62,277.49 62.2,276.96 62.4,278.28 62.6,278.78 62.8,279.21 63,280.51 63.2,280.5 63.4,282.18 63.6,281.78 63.8,283.17 64,282.76 64.2,283.01 64.4,283.98 64.6,283.94 64.8,282.53 65,284.03 65.2,284.11 65.4,284.56 65.6,284.74 65.8,285.82 66,285.95 66.2,285.57 66.4,287.1 66.6,287.04 66.8,286.99 67,287.02 67.2,287.35 67.4,285.71 67.6,286.6 67.8,287.76 68,287.93 68.2,289.04 68.4,288.75 68.6,288.62 68.8,288.61 69,288.26 69.2,288.61 69.4,288.08 69.6,288.07 69.8,287.22 70,287.41 70.2,286.98 70.4,287.49 70.6,286.93 70.8,287.02 71,285.23 71.2,285.13 71.4,284.1 71.6,283.49 71.8,282.25 72,281.8 72.2,280.81 72.4,278.53 72.6,278.59 72.8,278.77 73,279.1 73.2,278.5 73.4,278.98 73.6,279.42 73.8,278.78 74,278.75 74.2,278.84 74.4,277.85 74.6,278.86 74.8,275.83 75,276.58 75.2,275.91 75.4,276.53 75.6,276.84 75.8,276.33 76,275.22 76.2,274.37 76.4,273.85 76.6,271.94 76.8,271.17 77,268.52 77.2,267.31 77.4,266.78 77.6,266.61 77.8,267.63 78,267.58 78.2,268.02 78.4,267.24 78.6,267.99 78.8,268.68 79,268.03 79.2,269.03 79.4,266.98 79.6,266.21 79.8,265.52 80,264.21 80.2,263.17 80.4,263.51 80.6,261.91 80.8,261.69 81,260.45 81.2,259.84 81.4,257.95 81.6,256.67 81.8,256.75 82,256.65 82.2,256.04 82.4,256.09 82.6,257.05 82.8,256.19 83,256.58 83.2,256.73 83.4,256.14 83.6,256.37 83.8,256.76 84,257.72 84.2,256.96 84.4,257.57 84.6,257.87 84.8,257.69 85,258.64 85.2,258.48 85.4,257.79 85.6,257.05 85.8,256.16 86,256.08 86.2,255.08 86.4,254.29 86.6,253.39 86.8,253.28 87,249.73 87.2,250.36 87.4,251.21 87.6,251.91 87.8,252.62 88,253.32 88.2,253.64 88.4,254.63 88.6,254.42 88.8,255.88 89,256.18 89.2,254.56 89.4,255.44 89.6,254.63 89.8,254.57 90,255.35 90.2,254.6 90.4,254.82 90.6,254.72 90.8,254.34 91,253.78 91.2,253.43 91.4,252.71 91.6,253.55 91.8,252.06 92,251.08 92.2,253.77 92.4,254.6 92.6,256.96 92.8,257.57 93,258.93 93.2,261.64 93.4,262.41 93.6,262.55 93.8,263.82 94,263.34 94.2,262.28 94.4,264.49 94.6,265.4 94.8,265.96 95,266.35 95.2,267.55 95.4,266.94 95.6,267.84 95.8,268.89 96,268.33 96.2,268.47 96.4,269.26 96.6,268.01 96.8,268.08 97,269.45 97.2,270.94 97.4,271.26 97.6,272.81 97.8,274.7 98,275.47 98.2,277 98.4,277.56 98.6,279.39 98.8,279.1 99,279.46 99.2,280.05 99.4,279.83 99.6,280.41 99.8,281.2 100,281.45 100.2,281.55 100.4,281.18 100.6,281.74 100.8,282.35 101,283.02 101.2,280.58 101.4,281.33 101.6,281.17 101.8,282.6 102,282.3 102.2,282.72 102.4,284.25 102.6,283.64 102.8,284.64 103,285.48 103.2,285.69 103.4,286.33 103.6,286.17 103.8,285.16 104,285.49 104.2,286.34 104.4,286.7 104.6,287.05 104.8,287.71 105,287.88 105.2,288.32 105.4,288.07 105.6,288.46 105.8,287.63 106,287.8 106.2,286.7 106.4,287.66 106.6,287.32 106.8,287.89 107,287.39 107.2,287.99 107.4,287.75 107.6,287.84 107.8,286.74 108,287.46 108.2,286.22 108.4,286.57 108.6,286.1 108.8,283.82 109,283.52 109.2,283.41 109.4,283.34 109.6,283.97 109.8,283.82 110,283.03 110.2,282.75 110.4,282.48 110.6,283.03 110.8,283 111,281.73 111.2,281.03 111.4,281.29 111.6,280.44 111.8,280.03 112,280.57 112.2,280.04 112.4,279.93 112.6,279.05 112.8,279.1 113,278.6 113.2,277.63 113.4,276 113.6,273.5 113.8,272.92 114,273.5 114.2,272.14 114.4,271.24 114.6,272.64 114.8,272.26 115,272.46 115.2,273.27 115.4,273.12 115.6,274.05 115.8,274.31 116,273.08 116.2,273.95 116.4,273.95 116.6,272.21 116.8,270.95 117,270.25 117.2,268.75 117.4,267.32 117.6,267.03 117.8,264.72 118,263.71 118.2,262.26 118.4,261.71 118.6,262.1 118.8,262.98 119,262.59 119.2,263.77 119.4,264.04 119.6,263.67 119.8,264.26 120,265.43 120.2,264.25 120.4,263.24 120.6,262.55 120.8,260.11 121,260.36 121.2,259.4 121.4,259.02 121.6,259.6 121.8,258.29 122,258.5 122.2,258.37 122.4,257.88 122.6,257.3 122.8,256.6 123,254.49 123.2,253.94 123.4,254.35 123.6,254.01 123.8,252.98 124,253.57 124.2,255.29 124.4,255.77 124.6,256.7 124.8,257.46 125,257.83 125.2,257.97 125.4,258.56 125.6,258.86 125.8,259.3 126,258.19 126.2,259.03 126.4,257.49 126.6,258.15 126.8,257.39 127,256.33 127.2,256.08 127.4,255.08 127.6,254.28 127.8,253.5 128,253.85 128.2,254.91 128.4,255.55 128.6,256.98 128.8,257.9 129,259 129.2,258.63 129.4,260.06 129.6,260.18 129.8,259.73 130,260.53 130.2,260.1 130.4,260.37 130.6,260.85 130.8,261.48 131,262.34 131.2,262.23 131.4,262.09 131.6,262.36 131.8,263.46 132,263.27 132.2,264.64 132.4,264.98 132.6,263.34 132.8,263.93 133,263.75 133.2,265.16 133.4,265.01 133.6,265.94 133.8,265.87 134,267.7 134.2,268.02 134.4,270.46 134.6,271.27 134.8,271.99 135,271.96 135.2,273.16 135.4,274.99 135.6,276.9 135.8,277.18 136,277.32 136.2,277.82 136.4,278.03 136.6,278.31 136.8,278.67 137,279.17 137.2,277.49 137.4,277.04 137.6,278.79 137.8,278.44 138,279.03 138.2,279.58 138.4,280.89 138.6,280.39 138.8,282.21 139,282.66 139.2,283.1 139.4,283.52 139.6,282.09 139.8,283.26 140,283.89 140.2,285.49 140.4,285.87 140.6,286.52 140.8,287.74 141,286.81 141.2,288.23 141.4,287.84 141.6,287.51 141.8,285.86 142,285.76 142.2,286.54 142.4,287.09 142.6,288.21 142.8,288.17 143,288.19 143.2,288.78 143.4,288.72 143.6,287.93 143.8,288.18 144,287.77 144.2,287.54 144.4,285.41 144.6,285.28 144.8,285.72 145,285.86 145.2,286.48 145.4,286.38 145.6,285.99 145.8,287.24 146,286.89 146.2,286.73 146.4,286.55 146.6,286.08 146.8,283.13 147,283.6 147.2,282.81 147.4,282.2 147.6,281.95 147.8,282.24 148,281.2 148.2,281.33 148.4,280.99 148.6,280.35 148.8,279.12 149,278.9 149.2,277.76 149.4,277.15 149.6,278.17 149.8,278.29 150,277.46 150.2,277.67 150.4,278.08 150.6,278.5 150.8,277.63 151,278.28 151.2,277.06 151.4,275.26 151.6,274.4 151.8,274.6 152,273.07 152.2,272.39 152.4,272.13 152.6,271.99 152.8,271.21 153,269.9 153.2,269.63 153.4,267.98 153.6,267.53 153.8,267.24 154,265.1 154.2,265.64 154.4,266.26 154.6,266.52 154.8,267.39 155,267.62 155.2,268.24 155.4,267.79 155.6,269.24 155.8,268.99 156,268.85 156.2,269.29 156.4,269.07 156.6,268.31 156.8,268.24 157,266.44 157.2,266.84 157.4,265.02 157.6,264.69 157.8,263.15 158,263.5 158.2,262.55 158.4,261.24 158.6,258.86 158.8,258.28 159,258.5 159.2,258.61 159.4,259.54 159.6,260.47 159.8,259.88 160,260.52 160.2,261.94 160.4,262.23 160.6,261.5 160.8,262 161,262.45 161.2,263.22 161.4,263.92 161.6,262.26 161.8,262.28 162,261.88 162.2,261.89 162.4,260.87 162.6,259.74 162.8,259.27 163,259.34 163.2,258.29 163.4,258.28 163.6,257.83 163.8,255.63 164,255.43 164.2,254.31 164.4,254.91 164.6,253.62 164.8,255.18 165,255.52 165.2,256.7 165.4,258.07 165.6,258.88 165.8,259.68 166,260.13 166.2,259.06 166.4,260.38 166.6,259.69 166.8,259.97 167,261.46 167.2,261.53 167.4,261.36 167.6,261.36 167.8,262.55 168,261.65 168.2,261.84 168.4,262.92 168.6,259.96 168.8,260.74 169,261.92 169.2,263.29 169.4,264.03 169.6,265.15 169.8,266.88 170,267.9 170.2,269.01 170.4,270.49 170.6,272.04 170.8,272.63 171,270.21 171.2,270.76 171.4,272.42 171.6,272.72 171.8,272.79 172,274.17 172.2,273.7 172.4,274.13 172.6,274.85 172.8,275.89 173,275.85 173.2,273.95 173.4,275.23 173.6,276.48 173.8,277.28 174,277.67 174.2,278.76 174.4,278.97 174.6,279.95 174.8,281.31 175,281.94 175.2,282.97 175.4,282.96 175.6,282.84 175.8,283.36 176,283.43 176.2,284.56 176.4,284.84 176.6,285.41 176.8,286.13 177,285.66 177.2,285.33 177.4,285.83 177.6,286.32 177.8,286.28 178,285.85 178.2,286.37 178.4,286.53 178.6,286.17 178.8,286.38 179,286.61 179.2,287.67 179.4,287.43 179.6,287.76 179.8,287.65 180,288.16 180.2,288.66 180.4,288.21 180.6,286.83 180.8,287.85 181,287.33 181.2,288.19 181.4,288.19 181.6,287.56 181.8,287.94 182,288.13 182.2,288.45 182.4,289.27 182.6,289.11 182.8,288.72 183,286.1 183.2,285.71 183.4,286.17 183.6,287.32 183.8,286.66 184,286.58 184.2,287.52 184.4,286.44 184.6,287.1 184.8,286.38 185,286.17 185.2,283.03 185.4,282.79 185.6,282.46 185.8,282.21 186,282.07 186.2,281.65 186.4,280.56 186.6,280.59 186.8,280.63 187,280.43 187.2,279.89 187.4,280.3 187.6,280.42 187.8,280.84 188,280.4 188.2,281.1 188.4,281.73 188.6,282.32 188.8,282.49 189,281.76 189.2,281.24 189.4,280.35 189.6,278.52 189.8,278.55 190,275.18 190.2,274.29 190.4,274.74 190.6,274.21 190.8,272.38 191,272.53 191.2,270.83 191.4,271.63 191.6,271.1 191.8,271.19 192,271.83 192.2,270.99 192.4,270.19 192.6,269.79 192.8,270.09 193,270.75 193.2,271.33 193.4,270.05 193.6,268.94 193.8,268.64 194,268.37 194.2,267.11 194.4,266.56 194.6,266 194.8,264.16 195,263.27 195.2,262.53 195.4,262.69 195.6,262.27 195.8,262.44 196,263.29 196.2,263.74 196.4,263.7 196.6,265.09 196.8,265.73 197,266.17 197.2,264.51 197.4,265.5 197.6,266.32 197.8,266.2 198,264.9 198.2,265.53 198.4,264.72 198.6,264.56 198.8,264.39 199,262.95 199.2,263.38 199.4,262.9 199.6,260.45 199.8,260.12 200,260.48 200.2,260.35 200.4,260.03 200.6,260.02 200.8,260.1 201,259.97 201.2,259.93 201.4,260.15 201.6,259.34 201.8,261.08 202,259.37 202.2,260.41 202.4,260.95 202.6,261.89 202.8,262.66 203,262.14 203.2,262.77 203.4,263.33 203.6,263.77 203.8,263.13 204,262.94 204.2,263.25 204.4,260.16 204.6,260.8 204.8,260.68 205,260.64 205.2,260.74 205.4,261.26 205.6,260.28 205.8,261.27 206,262.23 206.2,264.32 206.4,265.25 206.6,267.16 206.8,264.8 207,267.27 207.2,268.05 207.4,270.65 207.6,272.16 207.8,271.56 208,272.11 208.2,271.65 208.4,272.59 208.6,272.76 208.8,272.5 209,270.63 209.2,270.98 209.4,271.75 209.6,271.18 209.8,272.26 210,272.27 210.2,272.48 210.4,274.41 210.6,274.96 210.8,275.96 211,277.05 211.2,277.83 211.4,279.1 211.6,278.13 211.8,280.11 212,281 212.2,282.66 212.4,283.75 212.6,285.42 212.8,285.26 213,284.42 213.2,284.75 213.4,285.43 213.6,285.62 213.8,285.65 214,283.68 214.2,284.38 214.4,283.62 214.6,284.81 214.8,284.79 215,285.37 215.2,286.56 215.4,285.83 215.6,286.46 215.8,287.3 216,288.01 216.2,288.62 216.4,288.34 216.6,288.68 216.8,288.86 217,288.77 217.2,288.92 217.4,290.09 217.6,290.28 217.8,290.54 218,290.92 218.2,291.41 218.4,291.17 218.6,291.03 218.8,288.51 219,289.62 219.2,290.78 219.4,290.92 219.6,290.86 219.8,290.54 220,290.07 220.2,290.49 220.4,290.23 220.6,290.23 220.8,289.51 221,288.13 221.2,286.94 221.4,287.61 221.6,286.51 221.8,286.71 222,286.87 222.2,286.43 222.4,285.36 222.6,285.75 222.8,285.59 223,285.34 223.2,284.5 223.4,285.23 223.6,284.11 223.8,282.7 224,282.6 224.2,281.61 224.4,280.98 224.6,281.45 224.8,281.53 225,281.12 225.2,280.71 225.4,279.35 225.6,279.85 225.8,278.26 226,275.34 226.2,276.23 226.4,275.2 226.6,276.14 226.8,276.09 227,276.11 227.2,275.9 227.4,275.54 227.6,274.54 227.8,274.18 228,273.77 228.2,272.29 228.4,272.2 228.6,273.13 228.8,272.8 229,271.64 229.2,272 229.4,272.3 229.6,271.52 229.8,271.48 230,271.73 230.2,271.51 230.4,270.19 230.6,270.05 230.8,269.37 231,268.3 231.2,268.22 231.4,268.58 231.6,267.12 231.8,266.61 232,267.22 232.2,265.97 232.4,266.13 232.6,264.72 232.8,265.09 233,266.94 233.2,265.85 233.4,267.51 233.6,267.94 233.8,268.96 234,269.01 234.2,270.3 234.4,271.17 234.6,270.84 234.8,270.19 235,269.15 235.2,267.66 235.4,267.14 235.6,263.01 235.8,262.75 236,261.14 236.2,260.72 236.4,259.83 236.6,260.44 236.8,262.12 237,263.24 237.2,263.35 237.4,264.41 237.6,264.73 237.8,263.3 238,263.75 238.2,264.22 238.4,266 238.6,266.7 238.8,267.27 239,266.79 239.2,267.28 239.4,266.85 239.6,267.09 239.8,266.54 240,265.56 240.2,265.7 240.4,264.14 240.6,264.3 240.8,264.29 241,263.82 241.2,264.41 241.4,264.9 241.6,264.3 241.8,263.59 242,264.48 242.2,264.62 242.4,265.34 242.6,262.31 242.8,264.34 243,265 243.2,266.73 243.4,267.13 243.6,267.94 243.8,269.89 244,270.33 244.2,270.27 244.4,270.21 244.6,270.48 244.8,268 245,268.22 245.2,268.74 245.4,268.99 245.6,269.93 245.8,269.91 246,270.43 246.2,270.5 246.4,271.63 246.6,272.05 246.8,272.48 247,273.33 247.2,273.88 247.4,275.2 247.6,275.22 247.8,276.78 248,277.64 248.2,278.57 248.4,279.89 248.6,281 248.8,281.99 249,282.09 249.2,282.87 249.4,282.47 249.6,282.72 249.8,282.29 250,282.92 250.2,283.14 250.4,282.84 250.6,283.77 250.8,283.62 251,283.89 251.2,285.15 251.4,285.1 251.6,284.88 251.8,286.03 252,286.73 252.2,284.43 252.4,284.44 252.6,285.9 252.8,286.33 253,287.08 253.2,287.37 253.4,287.91 253.6,289.65 253.8,289.46 254,289.54 254.2,290 254.4,288.46 254.6,288.28 254.8,289.28 255,289.33 255.2,289.66 255.4,290.06 255.6,290.25 255.8,290.55 256,290.23 256.2,290.69 256.4,290.73 256.6,289.63 256.8,288.33 257,288.72 257.2,288.92 257.4,288.62 257.6,289.28 257.8,289.94 258,289.53 258.2,289.7 258.4,289.67 258.6,289.48 258.8,288.5 259,288.88 259.2,288.33 259.4,287.77 259.6,288.62 259.8,288.61 260,287.92 260.2,288.52 260.4,287.36 260.6,287.66 260.8,288.18 261,286.66 261.2,286.67 261.4,284.27 261.6,283.94 261.8,283.73 262,283.6 262.2,283.62 262.4,281.95 262.6,281.62 262.8,281.89 263,281.18 263.2,280.91 263.4,280.53 263.6,280.2 263.8,276.72 264,276.67 264.2,277.32 264.4,276.62 264.6,277.38 264.8,277.39 265,277.11 265.2,277.53 265.4,276.34 265.6,276.11 265.8,277.17 266,276.81 266.2,272.99 266.2,317.97 266,317.25 265.8,318.12 265.6,317.89 265.4,318.81 265.2,318.43 265,316.54 264.8,316.5 264.6,316.25 264.4,314.73 264.2,315.59 264,314.75 263.8,313.86 263.6,314.43 263.4,313.93 263.2,313.4 263,314.18 262.8,311.22 262.6,310.67 262.4,309.63 262.2,308.95 262,309.44 261.8,308.41 261.6,308.44 261.4,307.93 261.2,307.6 261,306.9 260.8,306.28 260.6,305.88 260.4,305.48 260.2,304.18 260,304.57 259.8,305.37 259.6,304.41 259.4,304.24 259.2,305.14 259,304.85 258.8,304.96 258.6,305.08 258.4,305.37 258.2,306.11 258,302.6 257.8,303.27 257.6,302.96 257.4,303.73 257.2,303.26 257,303.13 256.8,303.49 256.6,303.59 256.4,304.84 256.2,304.12 256,304.78 255.8,304.09 255.6,303.56 255.4,304.03 255.2,303.55 255,303.45 254.8,304.69 254.6,304.09 254.4,304.37 254.2,305.41 254,305.19 253.8,306.17 253.6,305.82 253.4,305.68 253.2,306.41 253,306.89 252.8,307.16 252.6,307.94 252.4,308.37 252.2,307.88 252,308.96 251.8,309.89 251.6,309.96 251.4,310.93 251.2,309.72 251,308.93 250.8,309.51 250.6,309.68 250.4,310.16 250.2,310.05 250,310.91 249.8,311.52 249.6,311.46 249.4,312.16 249.2,311.79 249,312.6 248.8,312.86 248.6,313.32 248.4,313.52 248.2,314.46 248,315.16 247.8,316.7 247.6,317.71 247.4,317.97 247.2,319.96 247,320.8 246.8,321.83 246.6,321.63 246.4,322.8 246.2,321.08 246,321.48 245.8,321.9 245.6,321.84 245.4,322.51 245.2,323.57 245,324.37 244.8,325.09 244.6,325.52 244.4,326.08 244.2,327.49 244,327.51 243.8,326.5 243.6,326.65 243.4,326.56 243.2,327.29 243,328.64 242.8,328.76 242.6,330.01 242.4,330.58 242.2,331.5 242,331.51 241.8,331.72 241.6,329.97 241.4,329.05 241.2,328.88 241,328.89 240.8,327.59 240.6,327.31 240.4,327.19 240.2,327.68 240,327.24 239.8,326.68 239.6,325.75 239.4,326.27 239.2,326.02 239,327.16 238.8,327.22 238.6,328.04 238.4,327.33 238.2,328.04 238,329.14 237.8,329.57 237.6,330.4 237.4,330.29 237.2,331.42 237,332.48 236.8,330.1 236.6,329.11 236.4,329.8 236.2,328.61 236,328.35 235.8,327.02 235.6,327.46 235.4,326.27 235.2,326.06 235,326.41 234.8,325.47 234.6,323.61 234.4,323.67 234.2,323.73 234,324.59 233.8,324.97 233.6,325.96 233.4,325.86 233.2,327.51 233,328.29 232.8,329.38 232.6,329.32 232.4,331.25 232.2,328.48 232,329.14 231.8,328.37 231.6,328.09 231.4,326.84 231.2,326.91 231,325.49 230.8,325.28 230.6,323.82 230.4,323.4 230.2,323.96 230,322.53 229.8,322.62 229.6,318.94 229.4,319.28 229.2,318.81 229,318.26 228.8,318.46 228.6,318.44 228.4,319.15 228.2,319.29 228,318.77 227.8,319.89 227.6,319.84 227.4,317.02 227.2,317.11 227,315.51 226.8,315.67 226.6,314.48 226.4,313.7 226.2,313.93 226,313.59 225.8,313.33 225.6,312.17 225.4,312.24 225.2,312.62 225,308.55 224.8,308.14 224.6,308.49 224.4,308.42 224.2,308.48 224,307.73 223.8,307.14 223.6,308.41 223.4,307.42 223.2,307.4 223,308.05 222.8,308.1 222.6,305.13 222.4,304.65 222.2,304.33 222,304.77 221.8,304.04 221.6,304.95 221.4,304.29 221.2,304.74 221,303.77 220.8,304.71 220.6,304.29 220.4,304.77 220.2,302.52 220,301.62 219.8,301.27 219.6,301.91 219.4,301.22 219.2,301.77 219,302.95 218.8,302.35 218.6,303.54 218.4,303.08 218.2,303.58 218,304.99 217.8,303.11 217.6,304.24 217.4,304.1 217.2,303.79 217,304.68 216.8,305.13 216.6,305.97 216.4,305.12 216.2,305.86 216,306.62 215.8,307 215.6,307.23 215.4,306.51 215.2,307.23 215,307.42 214.8,306.93 214.6,308.03 214.4,307.28 214.2,308.15 214,308.26 213.8,308.89 213.6,308.86 213.4,309.74 213.2,309.15 213,310.92 212.8,311.43 212.6,312.15 212.4,313.34 212.2,313.3 212,314.43 211.8,315.17 211.6,316.74 211.4,318.1 211.2,319.16 211,320.36 210.8,320.61 210.6,320.94 210.4,320.55 210.2,320.74 210,320.46 209.8,319.73 209.6,319.81 209.4,319.91 209.2,320.86 209,320.23 208.8,320.59 208.6,321.36 208.4,321.55 208.2,320.88 208,321.92 207.8,321.57 207.6,322.92 207.4,324.3 207.2,325.84 207,326.21 206.8,327.43 206.6,328.28 206.4,329.45 206.2,331.31 206,332.37 205.8,331.44 205.6,331.91 205.4,332.4 205.2,331.48 205,331.53 204.8,331.81 204.6,332.7 204.4,332.2 204.2,332.87 204,333.15 203.8,332.15 203.6,333.75 203.4,330.29 203.2,330.53 203,331.16 202.8,330.47 202.6,330.91 202.4,331.38 202.2,331.72 202,332.59 201.8,332.69 201.6,333.55 201.4,334.96 201.2,332.94 201,333.11 200.8,333.89 200.6,333.19 200.4,333.19 200.2,331.55 200,332.01 199.8,330.68 199.6,330.95 199.4,329.84 199.2,328.94 199,328.62 198.8,329.01 198.6,328.13 198.4,328.46 198.2,328.29 198,329.11 197.8,329.2 197.6,328.74 197.4,329.05 197.2,329.19 197,330.29 196.8,331.07 196.6,330.4 196.4,331.9 196.2,329.42 196,329.44 195.8,329.19 195.6,327.79 195.4,327.85 195.2,327.02 195,325.9 194.8,326.22 194.6,325.5 194.4,324.43 194.2,324.8 194,325.27 193.8,324.2 193.6,323.08 193.4,324.22 193.2,323.73 193,323.39 192.8,323.54 192.6,323.46 192.4,323.84 192.2,323.84 192,323.26 191.8,323.8 191.6,323.45 191.4,321.86 191.2,321.13 191,320.35 190.8,320.49 190.6,320.05 190.4,318.46 190.2,318.7 190,317.71 189.8,318.58 189.6,317.73 189.4,317.52 189.2,317.45 189,314.75 188.8,314.47 188.6,314.56 188.4,314.04 188.2,312.99 188,312.97 187.8,312.21 187.6,312.17 187.4,312.68 187.2,311.24 187,311.92 186.8,311.08 186.6,309.86 186.4,308.73 186.2,308.62 186,308.02 185.8,307.81 185.6,306.36 185.4,306.54 185.2,306.83 185,306.55 184.8,305.36 184.6,305.83 184.4,305.36 184.2,304.62 184,304.48 183.8,304.05 183.6,303.96 183.4,304.68 183.2,303.89 183,304.42 182.8,304.61 182.6,304.47 182.4,305.29 182.2,305.52 182,305.31 181.8,304.63 181.6,303.72 181.4,304.2 181.2,303.58 181,304.92 180.8,304.87 180.6,304.86 180.4,305.11 180.2,305.42 180,305.02 179.8,305.19 179.6,306.13 179.4,305.21 179.2,304.99 179,304.92 178.8,304.99 178.6,305.88 178.4,304.92 178.2,305.65 178,305.45 177.8,306.86 177.6,307.33 177.4,307.63 177.2,308.87 177,310.51 176.8,306.95 176.6,308.46 176.4,308.19 176.2,309.47 176,309.26 175.8,309.69 175.6,310.45 175.4,311.36 175.2,312.98 175,313.61 174.8,314.28 174.6,314.79 174.4,313.35 174.2,314.3 174,314.59 173.8,315.55 173.6,315.75 173.4,315.99 173.2,317.11 173,317.02 172.8,318.36 172.6,318.73 172.4,319.15 172.2,319.35 172,320.32 171.8,321.77 171.6,322.58 171.4,322.08 171.2,324.08 171,324.07 170.8,325.3 170.6,326.94 170.4,327.24 170.2,328.75 170,328.9 169.8,327.19 169.6,327.14 169.4,327.96 169.2,328.46 169,328.73 168.8,328.69 168.6,329.3 168.4,330.71 168.2,329.82 168,330.88 167.8,331.31 167.6,332.46 167.4,329.4 167.2,330.01 167,330.39 166.8,331.45 166.6,331.72 166.4,333.3 166.2,334.08 166,335.28 165.8,335.81 165.6,336.7 165.4,336.92 165.2,336.27 165,336.62 164.8,337.21 164.6,338.77 164.4,337.66 164.2,336.96 164,336.86 163.8,337.72 163.6,337.12 163.4,336.8 163.2,337.15 163,336.34 162.8,336.99 162.6,336.42 162.4,333.66 162.2,334.24 162,333.95 161.8,334.25 161.6,334.66 161.4,334.53 161.2,334.97 161,334.78 160.8,335.77 160.6,336.07 160.4,335.83 160.2,336.43 160,334.81 159.8,334.08 159.6,333.9 159.4,334.14 159.2,332.98 159,332.98 158.8,332.64 158.6,332.47 158.4,331.91 158.2,331.39 158,331.62 157.8,331.33 157.6,329.23 157.4,329.58 157.2,329.04 157,329.11 156.8,328.16 156.6,328.28 156.4,328.27 156.2,328.61 156,328.73 155.8,328.73 155.6,328.09 155.4,328.85 155.2,327.8 155,326.39 154.8,327.22 154.6,326.71 154.4,326.07 154.2,325.96 154,324.84 153.8,324.64 153.6,324.55 153.4,324.05 153.2,322.77 153,323.13 152.8,319.25 152.6,319.29 152.4,318.44 152.2,317.8 152,317.39 151.8,317.14 151.6,317.02 151.4,316.29 151.2,316.92 151,317.13 150.8,316.48 150.6,316.24 150.4,314.7 150.2,314.58 150,314.96 149.8,315.02 149.6,314.68 149.4,315.27 149.2,314.98 149,314.95 148.8,315.62 148.6,315.18 148.4,314.81 148.2,313.8 148,311.38 147.8,310.76 147.6,309.93 147.4,309.58 147.2,308.25 147,307.43 146.8,307.1 146.6,306.05 146.4,306.51 146.2,306.13 146,306.69 145.8,306.07 145.6,305.28 145.4,305.41 145.2,305.41 145,305.19 144.8,305.43 144.6,305.3 144.4,305.2 144.2,304.86 144,305.61 143.8,306.17 143.6,306.41 143.4,305.66 143.2,306.27 143,304.27 142.8,304.7 142.6,304.87 142.4,305.05 142.2,305.31 142,305.48 141.8,305.02 141.6,305.7 141.4,307.06 141.2,307.69 141,308.57 140.8,305.89 140.6,306.39 140.4,305.89 140.2,306.39 140,306.48 139.8,308.14 139.6,308.01 139.4,309.04 139.2,310.01 139,310.9 138.8,311.16 138.6,312.12 138.4,311.43 138.2,312.12 138,312.43 137.8,313.04 137.6,313.93 137.4,313.96 137.2,314.47 137,315.13 136.8,316.26 136.6,315.8 136.4,316.99 136.2,316.11 136,316.87 135.8,317.24 135.6,317.38 135.4,317.96 135.2,317.73 135,319.64 134.8,319.76 134.6,321.55 134.4,323.04 134.2,324.77 134,323.23 133.8,323.92 133.6,326.06 133.4,326.81 133.2,328.15 133,328.35 132.8,329.53 132.6,331.15 132.4,332.13 132.2,332.48 132,331.99 131.8,333.7 131.6,333.71 131.4,331.61 131.2,332.38 131,331.8 130.8,331.8 130.6,332.74 130.4,332.53 130.2,333.25 130,333.94 129.8,335.51 129.6,336.29 129.4,336.59 129.2,337.37 129,335.42 128.8,336.3 128.6,337.32 128.4,337.14 128.2,338.74 128,338.15 127.8,338.31 127.6,337.56 127.4,338.07 127.2,337.33 127,337.96 126.8,335.89 126.6,335.4 126.4,335.34 126.2,335.8 126,336.01 125.8,335.63 125.6,336.41 125.4,337.26 125.2,337.56 125,337.65 124.8,338.46 124.6,338.33 124.4,337.01 124.2,338.19 124,337.7 123.8,338.5 123.6,337.1 123.4,337.08 123.2,336.69 123,336.93 122.8,336.55 122.6,336.14 122.4,335.76 122.2,336.07 122,334.15 121.8,334.56 121.6,334.18 121.4,333.98 121.2,333.06 121,333.06 120.8,333.07 120.6,334.1 120.4,334.3 120.2,333.69 120,335.07 119.8,332.29 119.6,331.54 119.4,332.63 119.2,331.97 119,331.83 118.8,331.88 118.6,331.43 118.4,330.81 118.2,329.26 118,328.78 117.8,328.83 117.6,328.03 117.4,325.46 117.2,323.83 117,323.48 116.8,322.17 116.6,323.19 116.4,321.9 116.2,323.04 116,322.34 115.8,322.67 115.6,322.41 115.4,322 115.2,321.59 115,320.43 114.8,320.38 114.6,320.09 114.4,319.86 114.2,319.21 114,318.77 113.8,319.28 113.6,318.26 113.4,317.6 113.2,317.45 113,317.65 112.8,316.67 112.6,316.66 112.4,314.31 112.2,314.1 112,313.53 111.8,312.7 111.6,313.49 111.4,313.18 111.2,312.68 111,313.11 110.8,312.87 110.6,312.58 110.4,312.73 110.2,312.02 110,310.4 109.8,310.32 109.6,310.3 109.4,308.95 109.2,308.88 109,309.5 108.8,308.25 108.6,308.62 108.4,308.86 108.2,309.04 108,308.08 107.8,308.7 107.6,304.98 107.4,304.63 107.2,304.9 107,305.61 106.8,305.58 106.6,304.67 106.4,304.41 106.2,304.44 106,304.96 105.8,304.14 105.6,304.79 105.4,304.59 105.2,303.53 105,304.07 104.8,303.76 104.6,305.11 104.4,304.41 104.2,304.97 104,305.06 103.8,306.07 103.6,306.01 103.4,305.82 103.2,306.39 103,307.67 102.8,308.43 102.6,306.47 102.4,307.03 102.2,307.11 102,308.39 101.8,308.22 101.6,308.24 101.4,309.67 101.2,309.93 101,310.14 100.8,310.47 100.6,310.84 100.4,311.6 100.2,311.96 100,311.78 99.8,312.73 99.6,313.48 99.4,315.12 99.2,315.58 99,316.75 98.8,316.7 98.6,317.85 98.4,318.44 98.2,320.03 98,320.81 97.8,319.53 97.6,320.14 97.4,320.13 97.2,321.48 97,321.15 96.8,322.26 96.6,322.9 96.4,324.36 96.2,324.93 96,325.63 95.8,326.99 95.6,326.87 95.4,326.13 95.2,326.86 95,326.76 94.8,328.4 94.6,327.91 94.4,328.76 94.2,329.3 94,330.59 93.8,331.16 93.6,332.41 93.4,333.47 93.2,333.17 93,334.29 92.8,335.37 92.6,336.86 92.4,337.63 92.2,339.26 92,340.6 91.8,340.39 91.6,341.31 91.4,340.62 91.2,341.04 91,341.33 90.8,340.81 90.6,340.15 90.4,339.35 90.2,339.8 90,339.33 89.8,339.71 89.6,338.95 89.4,338.87 89.2,338.96 89,339.82 88.8,340.81 88.6,340.46 88.4,340.48 88.2,339.97 88,340.27 87.8,339.96 87.6,340.18 87.4,341.08 87.2,341.5 87,340.73 86.8,341.12 86.6,341.97 86.4,342.53 86.2,342.32 86,342.23 85.8,338.66 85.6,339.47 85.4,339.4 85.2,338.52 85,338.76 84.8,338.83 84.6,337.92 84.4,338.03 84.2,338.65 84,338.32 83.8,338.31 83.6,338.81 83.4,338.68 83.2,338.16 83,336.18 82.8,336.16 82.6,335.87 82.4,335.46 82.2,334.1 82,334.37 81.8,334.15 81.6,334.48 81.4,333.09 81.2,333.19 81,333.37 80.8,333.13 80.6,331.39 80.4,330.42 80.2,330.61 80,329.59 79.8,329.76 79.6,329.29 79.4,328.6 79.2,328.78 79,328.28 78.8,328.89 78.6,328.31 78.4,327.99 78.2,325.72 78,325.45 77.8,324.67 77.6,324.32 77.4,323.16 77.2,322.74 77,322.86 76.8,321.59 76.6,321.51 76.4,320.78 76.2,321.01 76,318.53 75.8,317.96 75.6,317.48 75.4,317.38 75.2,317.63 75,316.26 74.8,316.46 74.6,316.1 74.4,316.4 74.2,315.22 74,315.72 73.8,314.64 73.6,313.21 73.4,313.61 73.2,313.12 73,312.3 72.8,312.72 72.6,312.15 72.4,311.79 72.2,311.57 72,310.14 71.8,310.06 71.6,309.17 71.4,309.28 71.2,307.61 71,307.1 70.8,307.56 70.6,306.93 70.4,306.87 70.2,306.87 70,306.3 69.8,306.85 69.6,306.11 69.4,306.52 69.2,307.55 69,307.51 68.8,307.4 68.6,305.25 68.4,305.4 68.2,304.24 68,305.19 67.8,305.67 67.6,304.81 67.4,305.25 67.2,306.32 67,306.89 66.8,306.93 66.6,307.42 66.4,307.68 66.2,307.31 66,307.04 65.8,307.09 65.6,308.03 65.4,307.52 65.2,308.49 65,309.09 64.8,308.79 64.6,310.49 64.4,310.78 64.2,311.44 64,311.75 63.8,312.21 63.6,310.96 63.4,311.48 63.2,311.41 63,311.39 62.8,312.12 62.6,313.55 62.4,313.65 62.2,314.98 62,315.82 61.8,315.85 61.6,317.22 61.4,318.15 61.2,316.46 61,316.35 60.8,317.66 60.6,318.34 60.4,319.01 60.2,319.55 60,320.72 59.8,320.53 59.6,322.18 59.4,323.01 59.2,323.1 59,324.61 58.8,321.88 58.6,323.12 58.4,323.76 58.2,324.33 58,325.03 57.8,325.84 57.6,326.86 57.4,328.37 57.2,329.23 57,330.39 56.8,331.7 56.6,333.69 56.4,332.95 56.2,333.75 56,334.35 55.8,335.98 55.6,336.86 55.4,336.67 55.2,337.75 55,337.01 54.8,337.47 54.6,337.43 54.4,338.64 54.2,337.97 54,337.33 53.8,338.07 53.6,338.18 53.4,337.55 53.2,338.75 53,338.22 52.8,338.62 52.6,340.17 52.4,339.77 52.2,341.37 52,340.59 51.8,341.4 51.6,341.62 51.4,340.68 51.2,342.48 51,342.03 50.8,342.08 50.6,343.09 50.4,343.77 50.2,342.7 50,343 49.8,343.29 49.6,343.35 49.4,343.69 49.2,343.57 49,340.9 48.8,341.51 48.6,341.52 48.4,341.24 48.2,341.12 48,340.98 47.8,341.09 47.6,340.97 47.4,341.25 47.2,340.66 47,340.85 46.8,340.93 46.6,338.99 46.4,338.9 46.2,339.95 46,338.94 45.8,339.76 45.6,338.85 45.4,338.96 45.2,338.55 45,338.02 44.8,338.75 44.6,337.46 44.4,337.46 44.2,337.47 44,335.94 43.8,335.23 43.6,335.27 43.4,335.27 43.2,335.14 43,334.7 42.8,334.48 42.6,333.93 42.4,334.84 42.2,334.25 42,335.49 41.8,334.36 41.6,332.28 41.4,332.31 41.2,333.07 41,332.34 40.8,331.84 40.6,331.6 40.4,332.2 40.2,330.7 40,329.85 39.8,330.09 39.6,329.24 39.4,328.61 39.2,325.77 39,326.25 38.8,324.54 38.6,324.83 38.4,323.48 38.2,323.26 38,322.47 37.8,322.56 37.6,323.17 37.4,323.29 37.2,322.36 37,322.6 36.8,319.83 36.6,320.32 36.4,319.93 36.2,320.67 36,319.77 35.8,320.37 35.6,319.43 35.4,319.83 35.2,318.69 35,318.27 34.8,316.75 34.6,316.06 34.4,314.61 34.2,313.73 34,313.02 33.8,312.36 33.6,311.21 33.4,311.35 33.2,310.98 33,310.97 32.8,310.71 32.6,310.32 32.4,309.08 32.2,309.07 32,309.4 31.8,309.15 31.6,308.68 31.4,308.12 31.2,308.61 31,308.79"/>
</g>
<g clip-path="url(#cr0)">
<polyline fill="none" stroke="#000" stroke-width="0.95" stroke-linejoin="round" points="431.6,115.49 431.85,126.11 432.1,122.54 432.35,120.81 432.6,127.48 432.85,123.28 433.1,131.71 433.35,126.58 433.6,124.29 433.85,122.66 434.1,120.76 434.35,119.48 434.6,123.47 434.85,118.66 435.1,123.11 435.35,127.24 435.6,126.38 435.85,124.77 436.1,123.79 436.35,122.5 436.6,120.43 436.85,120.93 437,127 437.1,119.73 437.35,115.74 437.6,114.78 437.85,116.4 438.1,116.61 438.35,116.19 438.6,119.97 438.85,124.39 439.1,126.63 439.35,129.34 439.6,127.71 439.85,131.08 440.1,122.83 440.35,128.27 440.6,129.62 440.85,126.27 441.1,126.22 441.35,116.14 441.6,118.08 441.85,112.78 442.1,106.26 442.35,98.37 442.6,91.21 442.7,90.3 442.85,92.26 443.1,100.03 443.35,107.67 443.6,113.92 443.85,115.19 444.1,120.48 444.35,112.24 444.6,112.03 444.85,117.27 445.1,112.38 445.35,114.12 445.6,112.71 445.85,121.64 446.1,116.84 446.35,114.27 446.6,115.47 446.85,114.57 447.1,117.06 447.35,115.17 447.6,122.39 447.85,119.35 448.1,114.45 448.35,122.54 448.6,117.92 448.85,113.16 449.1,121.16 449.35,120.47 449.6,118.97 449.85,117.66 450.1,120.21 450.35,121.79 450.6,115.74 450.85,119.81 451.1,116.54 451.35,114.63 451.6,121.87 451.85,124.43 452.1,118.04 452.35,118.74 452.6,116.39 452.85,114.09 453.1,116.47 453.35,117.87 453.6,115.18 453.85,109.24 454.1,102.27 454.35,95.73 454.5,94.2 454.6,94.91 454.85,100.82 455.1,107.92 455.35,114.07 455.6,119.19 455.85,119.61 456.1,115.93 456.35,120.49 456.6,117.27 456.85,122.99 457.1,123.23 457.35,118.27 457.6,116.57 457.85,122.72 458.1,117.19 458.35,122.78 458.6,124.29 458.85,119.44 459.1,127.53 459.35,124.41 459.6,126.89 459.85,124.78 460.1,125.28 460.35,121.15 460.6,120.37 460.85,119.31 461.1,115.94 461.35,121.6 461.6,115.39 461.85,119.79 462.1,120.97 462.35,119.59 462.6,118.13 462.85,116.57 463.1,114.89 463.35,113.1 463.6,111.15 463.85,109.04 464.1,106.71 464.35,104.15 464.6,101.28 464.85,98.03 465.1,94.31 465.35,89.99 465.6,84.89 465.85,78.94 466.1,72.58 466.35,68.44 466.4,68.3 466.6,70.4 466.85,76.37 467.1,82.61 467.35,88.05 467.6,92.66 467.85,96.61 468.1,100.03 468.35,103.04 468.6,103.32 468.85,105.49 469.1,103.59 469.35,103.29 469.6,102.61 469.85,103.22 470.1,104.26 470.35,104.04 470.6,105.58 470.85,103.61 471.1,103.34 471.35,105.59 471.6,103.2 471.85,103.31 472.1,104.47 472.35,101.93 472.6,103.37 472.85,102.56 473.1,104.49 473.35,103.08 473.6,103.13 473.85,103.8 474.1,102.81 474.35,100.92 474.6,98.87 474.85,96.63 475.1,94.16 475.35,91.42 475.6,88.36 475.85,84.89 476.1,80.93 476.35,76.4 476.6,71.32 476.85,66.16 477.1,62.58 477.2,62.2 477.35,63.04 477.6,67.14 477.85,72.37 478.1,77.36 478.35,81.77 478.6,85.62 478.85,89 479.1,91.99 479.35,94.67 479.6,97.09 479.85,99.29 480.1,101.31 480.35,103.18 480.6,104.9 480.85,106.52 481.1,102.94 481.35,107 481.6,110.79 481.85,107.84 482.1,106.36 482.35,109.87 482.6,106.81 482.85,108.68 483.1,115.13 483.35,115.28 483.6,115.19 483.85,108.57 484.1,113.72 484.35,111.66 484.6,113.19 484.85,109.71 485.1,108.33 485.35,112.57 485.6,108.88 485.85,107.12 486.1,105.54 486.35,103.99 486.6,106.67 486.85,112.91 487.1,114.85 487.35,109.89 487.6,116.93 487.85,115.61 488.1,114.56 488.35,110.66 488.6,113.89 488.85,104.6 489,102 489.1,103.23 489.35,112 489.6,109.83 489.85,110.81 490.1,109.27 490.35,110.42 490.6,105.96 490.85,108.51 491,127 491.1,110.95 491.35,107.29 491.6,108.55 491.85,108.02 492.1,114.23 492.35,106.42 492.6,107.06 492.85,113.22 493.1,108.74 493.35,112.48 493.6,106.8 493.85,107.69 494.1,112.12 494.35,108.35 494.6,109.34 494.85,110.65 495.1,113.03 495.35,108.63 495.6,107.45 495.85,110.37 496.1,112.96 496.35,114.24 496.6,112.35 496.85,110.54 497.1,116.25 497.35,110.12 497.6,102.23 497.7,101 497.85,103.6 498.1,109.65 498.35,106.77 498.6,110.45 498.7,127 498.85,115.58 499.1,112.01 499.35,111.51 499.6,115.7 499.85,114.49 500.1,108.76 500.35,114.33 500.6,113.81 500.85,106.34 501.1,108.08 501.35,106.72 501.6,107.11 501.85,106.99 502.1,104.78 502.35,108.71 502.6,110.76 502.85,112.62 503.1,110.97 503.35,113.17 503.6,114.22 503.85,117.38 504.1,112.57 504.35,109.75 504.6,106.61 504.85,112.64 505.1,109.69 505.35,111.68 505.6,115.56 505.85,113.72 506.1,109.81 506.35,110.06 506.6,113.23 506.85,115.01 507.1,108.43 507.35,109.93 507.6,107.02 507.85,105.42 508.1,110.46 508.35,107.66 508.6,108.08 508.85,112.77 509.1,105.34 509.35,107.74 509.6,106.03 509.85,105.04 510.1,108.94 510.35,106.13 510.6,109.21 510.8,127 510.85,104.71 511.1,111.31 511.35,105.7 511.6,111.55 511.85,107.28 512.1,115.46 512.35,113.8 512.6,104.17 512.85,111.47 513.1,106.9 513.35,108.57 513.5,127 513.6,107.59 513.85,108.7 514.1,108.17 514.35,110.95 514.6,104.91 514.85,110.14 515.1,101.07 515.35,93.32 515.4,93 515.6,97.28 515.85,106.72 516.1,110.55 516.35,112.95 516.6,109 516.85,108.99 517.1,111.13 517.35,104.61 517.6,109.36 517.85,107.82 518.1,104.31 518.35,101.07 518.6,101.76 518.85,99.5 519.1,104.63 519.35,105.54 519.6,96.12 519.85,94.95 520.1,98.15 520.35,103.31 520.6,96.15 520.85,97.08 521.1,100.18 521.35,100.78 521.6,101.29 521.85,105.37 522.1,101.96 522.35,102.72 522.6,107.03 522.85,111.16 523.1,103.48 523.35,103.01 523.6,101.91 523.85,99.28 524.1,98.12 524.35,90.46 524.5,88.5 524.6,89.41 524.85,96.57 525.1,104.17 525.35,100.78 525.6,102.44 525.85,96.02 526.1,102.06 526.35,98.74 526.6,98.8 526.85,96.4 527.1,87.63 527.2,86.4 527.35,89 527.6,98.29 527.85,102.9 528.1,105.41 528.3,118 528.35,102.44 528.6,101.57 528.85,108.35 529.1,109.12 529.35,104.23 529.6,108.49 529.85,105.44 530.1,104.89 530.35,104.28 530.6,104.4 530.85,104.06 531.1,101.75 531.35,107.3 531.6,104.36 531.85,103.04 532.1,104.7 532.35,105.12 532.6,107.16 532.85,102.49 533.1,105.03 533.35,96.44 533.6,90.3 533.6,90.3 533.85,96.44 534.1,101.02 534.35,97.93 534.6,100.13 534.85,96.84 535.1,96.88 535.35,94.65 535.6,98.71 535.85,96.21 536.1,94.79 536.35,96.14 536.6,95.48 536.85,96.49 537.1,100.03 537.35,99.18 537.6,98.06 537.85,97.47 538.1,98.18 538.35,93.3 538.6,95.89 538.85,98.08 539.1,99.26 539.35,97.28 539.6,94.53 539.85,96.42 540.1,95.47 540.35,98.74 540.6,98.02 540.85,94.03 541.1,90.08 541.35,95 541.6,94 541.85,94.12 542.1,93.07 542.35,94.74 542.6,89.91 542.85,88.39 543.1,92.08 543.35,90.99 543.6,86.58 543.85,88.19 544.1,107 544.1,85.99 544.35,91.95 544.6,91.86 544.85,87.66 545.1,90.76 545.35,87.26 545.5,85.3 545.6,86.21 545.85,91.39 546.1,87.79 546.35,94.05 546.6,91.62 546.85,90.13 547.1,87.96 547.35,87.03 547.6,88.59 547.85,85.66 548.1,88.84 548.35,85.11 548.6,87.22 548.85,86.77 549.1,85.1 549.35,89.29 549.6,90.13 549.85,86.43 550.1,84.55 550.35,85.96 550.6,81.76 550.85,85.75 551.1,83.38 551.35,84.45 551.6,82.12 551.85,83.19 552.1,82.86 552.35,82.57 552.6,83.06 552.85,80.5 553.1,80.4 553.35,80.32 553.6,77.68 553.85,77.87 554.1,75.8 554.35,73.54 554.6,71.05 554.85,68.28 555.1,65.16 555.35,61.62 555.6,57.54 555.85,52.81 556.1,47.38 556.35,41.64 556.6,37.46 556.7,37 556.85,38 557.1,42.76 557.35,48.52 557.6,53.81 557.85,58.4 558.1,62.36 558.35,65.81 558.6,68.86 558.85,71.57 559.1,74.01 559.35,76.23 559.6,78.26 559.85,80.13 560.1,79.3 560.35,82.95 560.6,85.01 560.85,85.96 561.1,82.56 561.35,85.81 561.6,86.26 561.85,85.58 562.1,84.76 562.35,80.1 562.6,81.64 562.85,82.92 563.1,84.49 563.35,85.02 563.6,83.59 563.85,84.25 564.1,87.23 564.35,86.02 564.6,87.89 564.85,91.14 565.1,88.53 565.35,92.06 565.6,87.98 565.85,88.29 566.1,89.76 566.35,91.38 566.6,86.59 566.85,80.64 567.1,74.28 567.35,70.14 567.4,70 567.6,72.1 567.85,78.07 568.1,84.31 568.35,89.75 568.6,92.49 568.8,127 568.85,95.22 569.1,97.37 569.35,95.27 569.6,96.38 569.85,94.15 570.1,96.05 570.35,98.16 570.6,96.91 570.85,99.52 571.1,95.43 571.35,98.48 571.6,93.65 571.85,97.31 572.1,98.61 572.35,100.6 572.6,95.36 572.85,98.75 573.1,101.12 573.35,98.02 573.6,101.49 573.85,100.84 574.1,96.13 574.35,97.31 574.6,95.99 574.85,99.91 575.1,94.74 575.35,100.66 575.6,96.69 575.85,98.43 576.1,105.18 576.35,101.25 576.6,104.02 576.85,106.44 577.1,100.31 577.35,101.87 577.6,104.84 577.85,103.6 578.1,98.41 578.35,92.24 578.4,92 578.6,95.29 578.85,99.89 579.1,100.43 579.35,101.21 579.6,99.18 579.85,101.41 580.1,101.21 580.35,101.46 580.6,99.85 580.85,106.06 581.1,100.42 581.35,102.59 581.6,97.77 581.85,101.25 582.1,103.11 582.35,103.59 582.6,102.48 582.85,107.38 583.1,100.01 583.35,104.85 583.6,99.04 583.85,102.36 584.1,98.33 584.35,99.36 584.6,107.42 584.85,106.33 585.1,99.84 585.35,99.64 585.6,98.88 585.85,92 586,89.4 586.1,90.63 586.35,99.4 586.6,101.87 586.85,96.31 587.1,102.61 587.35,99.96 587.6,104.79 587.85,101.96 588.1,104.88 588.35,109.92 588.6,102.95 588.85,103.06 589.1,103.38 589.35,101.67 589.6,106.88 589.85,107.08 590.1,106.77 590.35,103.15 590.6,105.14 590.85,104.72 591.1,105.95 591.35,106.51 591.6,110.31 591.85,108.14 592.1,102.3 592.35,109.62 592.6,107.66 592.85,109.75 593.1,104.81 593.35,102.91 593.6,105.12 593.85,101.21 594.1,103.79 594.35,103 594.6,104.67 594.85,97.96 595.1,105.94 595.35,99.06 595.6,102.76 595.85,102.19 596.1,108.11 596.35,106.22 596.6,107.48 596.85,100.69 597.1,103.19 597.35,107.37 597.6,108.22 597.85,106.25 598.1,105.83 598.35,103.25 598.6,105.85 598.85,108.65 599.1,106.13 599.35,106.91 599.6,104.57 599.85,99.45 600.1,101.32 600.35,104.96 600.6,111.3 600.85,107.88 601.1,113.81 601.35,109.16 601.6,112.19 601.85,111.74 602.1,103.98 602.35,108.52 602.6,109.81 602.85,114.08 603.1,112.13 603.35,105.97 603.6,107.43 603.85,110.77 604.1,110.37 604.35,110.87 604.6,112.68 604.85,105.62 605.1,108.48 605.35,103.48 605.6,102.92 605.85,113.42 606.1,106.06 606.35,114.42 606.6,116.55 606.85,108.55 607.1,107.81 607.35,106.49 607.6,115.66 607.85,111.22 608.1,108.21 608.35,118.82 608.6,115.46 608.85,118.59 609.1,108.77 609.35,112.93 609.6,113.45 609.85,108.73 610.1,108.69 610.35,103.4 610.6,105.63 610.85,106.89 611.1,109.82 611.35,105.13 611.6,105.99 611.85,111.97 612.1,116.91 612.35,109.02 612.6,112.74 612.85,112.62 613.1,115.86 613.35,113.15 613.6,113.08 613.85,107.72 614.1,107.59 614.35,112.75 614.6,108.89 614.85,111.09 615.1,109.08 615.35,103.8 615.6,99 615.6,99 615.85,103.8 616.1,111.94 616.35,109.95 616.6,107.8 616.85,115.37 617.1,110.32 617.35,112.87 617.6,109.79 617.85,104.87 618.1,105.79 618.35,105.44 618.6,102.97 618.85,110.17 619.1,112.71 619.35,106.65 619.6,115.4 619.85,107.69 620.1,113.18 620.35,118.1 620.6,119.33 620.85,111.45 621.1,120.83 621.35,120.82 621.6,111.45 621.85,110.99 622.1,114.84 622.35,111.95 622.6,112.68 622.85,116.2 623.1,112.73 623.35,105.64 623.6,108.16 623.85,115.33 624.1,117.08 624.35,110.19 624.6,107.87 624.85,116.8 625.1,110.02 625.35,110.42 625.6,113.05 625.85,109.27 626.1,116.94 626.35,119.1 626.6,111.78 626.85,114.68 627.1,106.56 627.35,108.38 627.6,105.59 627.85,105.53 628.1,108.55 628.35,110.53 628.6,106.92 628.85,115.14 629.1,115.08 629.35,110.03 629.6,111.1 629.85,108.23 630.1,105.33 630.35,115.24 630.6,113.97 630.85,107.57 631.1,112.85 631.35,110.15 631.6,117.07 631.85,113.55 632.1,117.01 632.35,113.03 632.6,112.55 632.85,112.58 633.1,114.33 633.35,104.45 633.6,111.91 633.85,111.82 634.1,115.15 634.35,106.66 634.6,111.24 634.85,107.93 635.1,112.17 635.35,106.27 635.6,118.29 635.85,111.08 636.1,115.62 636.35,111.89 636.6,122.31 636.85,119.58 637.1,121.34 637.35,119.97 637.6,121.76 637.85,118.22 638.1,109.92 638.35,108.29 638.6,115.31 638.85,107.62 639.1,112.28 639.35,108.44 639.6,114.49 639.85,108.82 640.1,106.88 640.35,117.69 640.6,111.18 640.85,112.92 641.1,118.49 641.35,112.36 641.6,122.3 641.85,110.73 642.1,120.05 642.35,120.3 642.6,116.16 642.85,109.48 643.1,107.77 643.35,117.04 643.6,117.69 643.85,119.5 644.1,122.8 644.35,117.85 644.6,115.89 644.85,106.6 645,104 645.1,105.23 645.35,110.89 645.6,122.73 645.85,118.2 646.1,119.54 646.35,122.59 646.6,124.68 646.85,116.28 647.1,121.47 647.35,121.52 647.6,115.14 647.85,115.42 648.1,121.22 648.35,114.18 648.6,120.81 648.85,122.4 649.1,115.85 649.35,115.53 649.6,113.88 649.85,113.52 650.1,121.2 650.35,112.34 650.6,111.05 650.85,115.23 651.1,110.17 651.35,110.71 651.6,120.63 651.85,123.3 652.1,122.01 652.35,123.36 652.6,118.41 652.85,118.08 653.1,124.15 653.35,120.52 653.6,116.8 653.85,118.64 654.1,123.94 654.35,119.27 654.6,124.52 654.85,116.69 655.1,114.45 655.35,117.87 655.6,119.58 655.85,121.57 656.1,132.01 656.35,127.73 656.6,124.87 656.85,121.05 657.1,128.75 657.35,124.44 657.6,117.58 657.85,118.86 658.1,122.7 658.35,123.82 658.6,123.97 658.85,120.38 659.1,121.43 659.35,121.58 659.6,117.07 659.85,120.59 660.1,126.19 660.35,118.15 660.6,120.45 660.85,123.95 661.1,121.57 661.35,115.9 661.6,115.28 661.85,123.78 662.1,112.61 662.35,116.94 662.6,113.73 662.85,111.71 663.1,108.4 663.35,118.23 663.6,117.87 663.85,115.44 664.1,113.61 664.35,117.26 664.6,112.26 664.85,113.87 665.1,114.63 665.35,114.07 665.6,120.46 665.85,117.36 666.1,118.47 666.35,119.2 666.6,130.08 666.85,118.67 667.1,128.9 667.35,126.96"/>
</g>
<g clip-path="url(#cr1)">
<polyline fill="none" stroke="#ff0000" stroke-width="0.85" stroke-linejoin="round" points="431.6,227.75 431.85,213.5 432.1,212.78 432.35,217.25 432.6,209.56 432.85,220.14 433.1,220.3 433.35,220.63 433.6,224.14 433.85,214.48 434.1,209.21 434.35,213.49 434.6,227.17 434.85,212.78 435.1,211.75 435.35,224.14 435.6,223.13 435.85,230.69 436.1,229.82 436.35,232.19 436.6,232.83 436.85,213.39 437.1,231.38 437.35,214.5 437.6,208.26 437.85,222.82 438.1,208.32 438.35,204.92 438.6,213.78 438.85,219.24 439.1,208.76 439.35,220.9 439.6,224.39 439.85,216.32 440.1,211.05 440.35,213.83 440.6,212.64 440.85,219.94 441.1,220.14 441.35,218.46 441.6,220.93 441.85,217.4 442.1,228.68 442.35,228.24 442.6,216.49 442.85,208.67 443.1,212.07 443.35,220.76 443.6,227.9 443.85,224.16 444.1,210.28 444.35,216.14 444.6,209.54 444.85,219.05 445.1,214.73 445.35,215.4 445.6,212.24 445.85,208.93 446.1,224.42 446.35,215.73 446.6,210.04 446.85,212.54 447.1,208.87 447.35,225.85 447.6,210.69 447.85,226.09 448.1,226.03 448.35,207.56 448.6,221.15 448.85,208.64 449.1,218.6 449.35,223.55 449.6,212.49 449.85,206.63 450.1,215.44 450.35,214.36 450.6,206.69 450.85,212.89 451.1,213.11 451.35,212.39 451.6,212.89 451.85,225.71 452.1,221.38 452.35,217.07 452.6,220.93 452.85,222.48 453.1,227.46 453.35,218.54 453.6,226.35 453.85,213.05 454.1,225.72 454.35,225.82 454.6,211.66 454.85,224.6 455,240 455.1,228.35 455.35,220.47 455.6,212.14 455.85,225.01 456.1,215.95 456.35,211.56 456.6,221.06 456.85,225.08 457.1,222.7 457.35,224.76 457.6,223.89 457.85,218.2 458.1,215.03 458.35,217.07 458.6,226.26 458.85,207.95 459.1,208.17 459.35,225.54 459.6,206.62 459.85,218.5 460.1,226.26 460.35,218.69 460.6,223.26 460.85,208.34 461.1,223.7 461.35,221.73 461.6,222.65 461.85,215.67 462.1,223.13 462.35,226.78 462.6,228.95 462.85,213.18 463.1,230.04 463.35,225.81 463.6,221.27 463.85,223.74 464.1,222.1 464.35,216.23 464.6,221.52 464.85,221.16 465.1,219.41 465.35,206.9 465.5,240 465.6,221.11 465.85,213.18 466.1,204.74 466.35,218.1 466.6,204.98 466.85,222.97 467.1,218.71 467.35,226.99 467.6,215.49 467.85,228.49 468.1,216.48 468.35,211.1 468.6,224.77 468.85,228.31 469.1,228.29 469.35,212.08 469.6,221.29 469.85,223.54 470.1,215.53 470.35,223.59 470.6,215.81 470.85,226.29 471.1,220.61 471.35,218.7 471.6,220.6 471.85,218.32 472.1,218.84 472.35,222.34 472.6,213.89 472.85,207.34 473.1,210.03 473.35,202.66 473.6,194.59 473.8,191.3 473.85,191.54 474.1,197.71 474.35,205.78 474.6,209.18 474.85,204.06 475.1,214.53 475.35,205.34 475.6,218.17 475.85,213.99 476.1,221.55 476.35,219.09 476.6,215.37 476.85,215.02 477.1,208.14 477.35,206.6 477.6,201.08 477.85,194.28 478.1,186.21 478.35,180.04 478.4,179.8 478.6,183.09 478.85,191.16 479.1,198.53 479.35,204.53 479.6,209.43 479.85,213.55 480.1,216.55 480.35,220.15 480.6,222.88 480.85,217.88 481.1,215.12 481.35,211.77 481.6,229.27 481.85,210.86 482.1,227.46 482.35,226.52 482.6,218.75 482.85,212.34 483.1,212.58 483.35,205.78 483.6,197.71 483.85,191.54 483.9,191.3 484.1,194.59 484.35,202.66 484.6,210.03 484.85,216.03 485.1,210.84 485.35,211.49 485.6,210.32 485.85,209.75 486.1,214.38 486.35,207.77 486.6,224.74 486.85,208.27 487.1,225.38 487.35,221.12 487.6,216.02 487.85,209.77 488.1,202.13 488.35,194.36 488.5,192.4 488.6,193.31 488.85,200.47 489.1,208.36 489.35,214.88 489.6,220.18 489.85,223.31 490.1,214.82 490.35,230.58 490.6,211.29 490.85,210.05 491.1,215.79 491.35,227.42 491.6,211.46 491.85,206.65 492.1,211.04 492.35,219.04 492.6,217.88 492.85,201.48 493.1,207.25 493.35,207.29 493.6,202.84 493.85,203.61 494.1,208.38 494.35,210.57 494.6,215.46 494.85,216.25 495.1,214.83 495.35,210.44 495.6,205.27 495.85,204.13 496.1,204.83 496.35,217.23 496.6,206.32 496.85,212.09 497.1,207.21 497.35,207.1 497.6,216.23 497.85,216.43 498.1,210.79 498.35,212.54 498.6,213.39 498.85,217.91 499.1,202.99 499.35,209.29 499.6,220.09 499.85,223.72 500.1,216.66 500.35,218.01 500.6,204.18 500.85,200.89 501.1,219.27 501.35,205.68 501.6,207.02 501.85,214.72 502.1,212.46 502.35,219.05 502.6,206.67 502.85,205.26 503.1,203.51 503.35,218.5 503.6,216.52 503.85,217.73 504.1,210.01 504.35,208.72 504.6,218.99 504.85,219.9 505.1,209.08 505.35,209.26 505.6,218.61 505.85,218.39 506.1,204.98 506.35,205.7 506.6,214.33 506.85,212.32 507.1,205.45 507.35,214.26 507.6,213.22 507.85,209.69 508.1,212.51 508.35,208.2 508.6,213.24 508.85,207.89 509.1,216 509.35,206.98 509.6,205.18 509.85,223.06 510.1,205.02 510.35,206.93 510.6,216.39 510.85,198.8 511.1,208.09 511.35,206.49 511.6,208.36 511.85,211.09 512.1,209.37 512.35,218.51 512.6,214.18 512.85,205.17 513.1,214.05 513.35,203.88 513.6,208.12 513.8,224 513.85,204.18 514.1,209.94 514.35,204.53 514.6,220.92 514.85,204.62 515.1,215 515.35,213.05 515.6,220.95 515.85,203.75 516.1,202.32 516.35,217.66 516.6,204.84 516.85,209.88 517.1,218.98 517.35,207.05 517.6,204.81 517.85,216.73 518.1,216.02 518.35,209.77 518.6,202.13 518.85,194.36 519,192.4 519.1,193.31 519.35,200.47 519.6,208.36 519.85,210.19 520.1,199.75 520.35,214.02 520.6,203.3 520.85,215.26 521.1,213.58 521.35,212.11 521.6,205.86 521.85,214.69 522.1,208.63 522.35,219.25 522.6,208.48 522.85,218.37 523.1,203.15 523.25,218.89 523.35,212.16 523.6,213.52 523.85,213.13 524.1,219.31 524.35,211.73 524.6,217.31 524.85,212.11 525.1,207.05 525.35,216.34 525.6,211.62 525.85,205.37 526.1,197.73 526.35,189.96 526.5,188 526.6,188.91 526.85,196.07 527.1,199.08 527.35,201.02 527.6,196.88 527.85,211.95 528.1,198.68 528.35,196.52 528.6,205.92 528.85,200.65 529.1,199.23 529.35,206.93 529.6,205.68 529.63,206.88 529.85,210.69 530.1,201.58 530.35,207.66 530.6,211.78 530.85,205.88 531.1,198.94 531.35,190.8 531.6,186 531.6,186 531.85,190.8 532.1,198.94 532.35,205.39 532.6,211.78 532.85,216.51 533.1,215.98 533.35,211.51 533.6,203.8 533.85,214.53 534.1,210.87 534.35,216.43 534.6,210.79 534.67,209.4 534.85,211.83 535.1,204.9 535.35,214.61 535.6,203.71 535.85,206.72 536.1,201.62 536.35,195.37 536.6,187.73 536.85,179.96 537,178 537.1,178.91 537.35,186.07 537.6,193.96 537.85,200.48 538.1,196.83 538.35,208.76 538.6,205.91 538.85,207.2 539.1,201.94 539.33,217.12 539.35,209.3 539.6,213.42 539.85,207.18 540.1,208.31 540.35,206.31 540.6,205.52 540.85,210.52 541.1,207.09 541.35,203.11 541.6,198.38 541.85,192.63 542.1,185.54 542.35,177.4 542.6,172.6 542.6,172.6 542.85,177.4 543.1,185.54 543.35,192.63 543.6,198.38 543.85,203.11 544.1,202.73 544.35,200.87 544.6,211.01 544.85,207.74 545.1,205.26 545.35,208.71 545.42,206.95 545.6,205.67 545.85,207.65 546.1,203.53 546.35,198.63 546.6,192.63 546.85,185.26 547.1,177.19 547.3,173.9 547.35,174.14 547.6,180.31 547.85,188.38 548.1,195.18 548.35,200.7 548.6,205.26 548.85,208.11 549.1,206.62 549.35,208.29 549.55,212.64 549.6,206.39 549.85,204.33 549.9,228.8 550.1,201.03 550.35,199.56 550.6,196.77 550.85,193.61 551.1,189.98 551.35,185.72 551.6,180.62 551.85,174.37 552.1,166.73 552.35,158.96 552.5,157 552.6,157.91 552.85,165.07 553.1,172.96 553.35,179.48 553.6,184.78 553.85,189.18 554.1,192.92 554.35,196.17 554.6,199.03 554.85,198.88 555.1,196.85 555.35,194.63 555.59,212.48 555.6,192.18 555.85,189.45 556.1,186.37 556.35,182.85 556.6,178.73 556.85,173.83 557.1,167.83 557.35,160.46 557.6,152.39 557.8,149.1 557.85,149.34 558.1,155.51 558.35,163.58 558.6,170.38 558.85,175.9 559.1,180.46 559.35,184.32 559.6,187.65 559.85,190.58 559.86,216.24 560.1,193.19 560.35,195.55 560.6,197.69 560.85,199.65 561.1,198.07 561.35,194.91 561.6,191.28 561.85,187.02 562.1,181.92 562.35,175.67 562.6,168.03 562.85,160.26 563,158.3 563.1,159.21 563.35,166.37 563.6,174.26 563.85,180.78 564.1,186.08 564.35,190.48 564.6,194.22 564.85,197.47 565.1,200.33 565.35,202.88 565.6,201.09 565.85,198.48 565.99,208.23 566.1,195.55 566.35,192.22 566.6,188.36 566.85,183.8 567.1,178.28 567.35,171.48 567.6,163.41 567.85,157.24 567.9,157 568.1,160.29 568.35,168.36 568.6,175.73 568.85,181.73 569.1,186.63 569.35,190.75 569.6,194.27 569.85,197.35 570.1,200.08 570.35,202.53 570.6,204.75 570.85,206.78 570.94,219.39 571.1,208.13 571.3,230 571.35,205.27 571.6,202.02 571.85,198.28 572.1,193.88 572.35,188.58 572.6,182.06 572.85,174.17 573.1,167.01 573.2,166.1 573.35,168.06 573.6,175.83 573.85,183.47 574.1,189.72 574.35,194.82 574.6,199.08 574.85,202.71 575.1,205.87 575.35,206.75 575.6,209.24 575.7,217.67 575.85,205.3 576.1,201.74 576.35,210.49 576.6,205.4 576.85,209.12 577.1,205.26 577.35,200.7 577.6,195.18 577.85,188.38 578.1,180.31 578.35,174.14 578.4,173.9 578.6,177.19 578.85,185.26 579.1,192.63 579.35,198.63 579.6,203.53 579.85,206.16 580.1,204.36 580.35,214.25 580.6,203.82 580.85,203.21 581.1,206.58 581.16,219.71 581.35,203.13 581.6,209.63 581.8,226.2 581.85,212.82 582.1,207.29 582.35,205.71 582.6,200.98 582.85,195.23 583.1,188.14 583.35,180 583.6,175.2 583.6,175.2 583.85,180 584.1,188.14 584.35,195.23 584.6,200.98 584.85,205.71 585.1,200.58 585.35,213.12 585.6,208.5 585.85,214.58 586.1,212.19 586.35,219.59 586.41,210.07 586.6,214.75 586.85,206.55 587.1,216.52 587.35,204.31 587.6,199.22 587.85,207.97 588.1,203.13 588.35,195.76 588.6,187.69 588.8,184.4 588.85,184.64 589.1,190.81 589.35,198.88 589.6,205.68 589.85,211.2 590.1,209.5 590.35,206.9 590.6,220.22 590.85,213.02 591.1,205.7 591.35,219.88 591.6,217.35 591.65,210.67 591.85,225.19 592.1,219.36 592.35,207.93 592.6,206.8 592.85,217.02 593.1,211.92 593.35,205.67 593.6,198.03 593.85,190.26 594,188.3 594.1,189.21 594.35,196.37 594.6,204.26 594.85,207.75 595.1,216.08 595.35,208.03 595.6,215.06 595.85,218.08 596.1,214.06 596.35,221.54 596.6,207.59 596.85,220.61 597.1,219.95 597.35,213.91 597.6,212.27 597.85,222.73 598.1,216.31 598.35,226.91 598.6,210.75 598.85,210.3 599.1,212.75 599.35,227.95 599.6,220.69 599.85,221.7 600.1,225.67 600.35,214.71 600.6,217.89 600.85,219.19 601.1,205.09 601.35,212.33 601.6,214.93 601.85,211.74 602.1,207.92 602.35,205.96 602.6,225.07 602.85,221.89 603.1,216.24 603.35,218.71 603.6,202.22 603.85,220.84 604.1,206.29 604.35,208.55 604.6,200.58 604.85,205.96 605.1,201.68 605.35,206.32 605.6,208.02 605.85,211.93 606.1,202.39 606.35,218.77 606.6,221.09 606.85,204.76 607.1,205.75 607.35,219.61 607.6,210.64 607.85,209.51 608.1,208.97 608.35,206.38 608.6,220.09 608.85,213.64 609.1,203.87 609.35,220.32 609.6,206.49 609.85,216.95 610.1,218 610.35,213.5 610.6,220.22 610.85,213.58 611.1,224.18 611.35,213.78 611.6,212.27 611.85,217.22 612.1,223.49 612.35,222.94 612.6,213.08 612.85,207.51 613.1,218.47 613.35,222.82 613.6,207.83 613.85,209.95 614.1,216.81 614.35,211.74 614.6,216.28 614.85,212.42 615.1,223.84 615.35,225.95 615.6,230.26 615.85,211.18 615.9,240 616.1,228.54 616.35,224.21 616.6,223.43 616.85,208.38 617.1,227.86 617.35,212.69 617.6,206.76 617.85,208.25 618.1,209.93 618.35,221.59 618.6,217.36 618.85,215.17 619.1,211.81 619.35,213.15 619.6,223.04 619.85,212.24 620.1,203.19 620.35,222.99 620.6,221.61 620.85,208.8 621.1,214.08 621.35,202.18 621.6,212.67 621.85,203 622.1,208.71 622.35,225.56 622.6,210.32 622.85,219.99 623.1,222.22 623.35,214.07 623.6,228.31 623.85,216.93 624.1,206.07 624.35,219.06 624.6,212.21 624.85,205.94 625.1,210.3 625.35,215.36 625.6,214.77 625.85,213.61 626.1,203.7 626.35,204.75 626.6,210.98 626.85,223.28 627.1,207.77 627.35,210.96 627.4,240 627.6,216.18 627.85,229.73 628.1,228.19 628.35,227.08 628.6,215.02 628.85,218.83 629.1,226.13 629.35,219.33 629.5,240 629.6,222.14 629.85,223.25 630.1,220.68 630.35,218.46 630.6,210.51 630.85,214.97 631.1,217.02 631.35,219.44 631.6,218.25 631.85,209.41 632.1,218.44 632.35,222.51 632.6,209.88 632.85,207.28 633.1,214.5 633.35,214.87 633.6,226.42 633.85,212.76 634.1,223.13 634.35,223.21 634.6,207.22 634.85,221.85 635.1,213.18 635.35,218.24 635.6,216.71 635.85,210.37 636.1,217.92 636.35,207.02 636.6,207.07 636.85,214.34 637.1,210.94 637.35,208.6 637.6,222.17 637.85,223.15 638.1,208.63 638.35,222.67 638.6,228.13 638.85,226.78 639.1,213.41 639.35,212.43 639.6,219.88 639.85,228.9 640.1,228.39 640.35,208.53 640.6,225.43 640.85,218.81 641.1,218.43 641.35,209.8 641.6,218.95 641.85,226.89 642.1,220.64 642.35,228.15 642.6,223.08 642.85,212.71 643.1,214.06 643.35,211.8 643.6,213.45 643.85,223.04 644.1,221.6 644.35,232.2 644.6,217.4 644.85,216 645.1,215.12 645.35,216.93 645.6,225.2 645.85,212.62 646.1,222.27 646.35,228.29 646.6,222.66 646.85,213.95 647.1,225.36 647.35,226.53 647.6,219.77 647.85,216.94 648.1,221.93 648.35,211.53 648.6,223.78 648.85,215.45 649.1,224.71 649.35,217.93 649.6,218.51 649.85,228.83 650.1,214.63 650.35,221.88 650.6,205.41 650.85,216.34 651.1,203.18 651.35,213.13 651.6,222.67 651.85,211.09 652.1,212.2 652.35,226.01 652.6,216.25 652.85,221.08 653.1,223.42 653.35,224.3 653.6,229.87 653.85,229.65 654.1,210.29 654.35,207.89 654.6,219.96 654.85,206.46 655.1,216.28 655.35,205.03 655.6,214.66 655.85,217.24 656.1,220.47 656.35,225.26 656.6,216.31 656.85,223 657.1,233.45 657.35,211.78 657.6,224.97 657.85,218.45 658.1,208.88 658.35,218.08 658.6,210.79 658.85,213.74 659.1,208.39 659.35,225.1 659.6,224.25 659.85,216.14 660.1,216.87 660.35,216.46 660.6,221.39 660.85,222.78 661.1,224.76 661.35,210.23 661.6,224.45 661.85,205.48 662.1,223.04 662.35,208.65 662.6,215.94 662.85,225.06 663.1,215.87 663.35,210.61 663.6,221.82 663.85,221.64 664,240 664.1,219.26 664.35,223.44 664.6,206.59 664.85,221.03 665.1,221.24 665.35,218.35 665.6,213.64 665.85,217.03 666.1,218.58 666.35,226.77 666.6,224.3 666.85,217.98 667.1,211.99 667.35,222.46"/>
</g>
<g clip-path="url(#cr2)">
<polyline fill="none" stroke="#ff8000" stroke-width="0.8" stroke-linejoin="round" points="431.6,330.91 431.85,326.15 432.1,328.73 432.35,325.29 432.6,333.65 432.85,336.74 433.1,335.22 433.35,319.1 433.6,318.4 433.85,328.1 434.1,323.8 434.35,327.68 434.6,328.62 434.85,333.54 435,351 435.1,337.32 435.35,338.68 435.6,333.52 435.85,326.58 436.1,332.6 436.35,330.81 436.6,326.3 436.85,335.13 437.1,329.69 437.35,327.7 437.6,335.06 437.85,332.26 438.1,342.05 438.35,325.78 438.6,342.57 438.85,336.81 439.1,332.16 439.35,333.68 439.6,337.19 439.85,341.59 440.1,329.27 440.35,329.61 440.6,327.34 440.85,329.25 441.1,332.46 441.35,324.51 441.6,320.6 441.85,320.41 442.1,330.06 442.35,326.14 442.6,323.75 442.85,324.08 443.1,315.82 443.35,312.04 443.6,309.32 443.7,309.2 443.7,309.2 443.85,309.7 444.1,313.95 444.35,319.89 444.6,324.5 444.85,325.95 445.1,329.03 445.35,327.58 445.6,336.15 445.85,326.77 446.1,344.87 446.35,340.39 446.6,344.67 446.85,332.68 447.1,324.54 447.35,326.34 447.6,345.1 447.85,337.83 448,340 448.1,322.17 448.35,330.25 448.6,320.24 448.85,327.8 449.1,323 449.35,337.42 449.6,327.41 449.85,334.49 450.1,324.65 450.35,324.1 450.6,324.89 450.85,335 451.1,323.47 451.35,331.18 451.6,321.71 451.85,325.37 452.1,327.72 452.35,330.66 452.6,340.28 452.85,333.63 453.1,326 453.35,328.43 453.6,330.54 453.85,332.72 454.1,319.06 454.35,317.81 454.6,314.51 454.85,312.66 455.1,329.68 455.35,327.93 455.6,324.92 455.85,319.22 456.1,315.36 456.2,315.3 456.2,315.3 456.35,316.33 456.6,319.79 456.85,324.74 457.1,329.54 457.35,324.12 457.6,323.46 457.85,317.72 458.1,322.22 458.2,345.5 458.35,327.95 458.6,324.01 458.85,332.82 459.1,317.25 459.35,328.73 459.6,315.3 459.85,319.17 460.1,330.44 460.35,318.65 460.6,320.14 460.85,332.59 461.1,328.73 461.35,315.06 461.6,325.74 461.85,316.34 462.1,332.22 462.35,329.48 462.6,330.72 462.85,329.51 463.1,328.66 463.35,330.65 463.6,324.72 463.85,323.06 464.1,327.41 464.35,323.51 464.6,319.35 464.85,323.49 465.1,315.75 465.35,319.2 465.6,312.58 465.85,313.85 466.1,305.36 466.35,304.31 466.6,297.53 466.85,294.19 467.1,290.59 467.2,290.1 467.2,290.1 467.35,291.03 467.6,295.01 467.85,299.92 468.1,301.87 468.35,307.28 468.6,314.59 468.85,311.27 469.1,315.44 469.35,323.3 469.6,324.85 469.85,325.03 470.1,325.19 470.35,325.25 470.6,321.12 470.85,324.2 471.1,318.71 471.35,324.81 471.6,323.48 471.85,330.25 472.1,335.22 472.3,351 472.35,332.27 472.6,322.56 472.85,319.71 473.1,322.3 473.35,325.94 473.6,324.57 473.85,323.83 474.1,322.46 474.35,328.71 474.6,323.67 474.85,319.96 475.1,324.84 475.35,320.75 475.6,323.13 475.85,320.33 476.1,319.34 476.35,318.1 476.6,309.31 476.85,309.74 477.1,307.86 477.35,299.3 477.6,297.81 477.85,292.34 478.1,288.02 478.3,287.1 478.3,287.1 478.35,287.29 478.6,290.35 478.85,292.96 479.1,299.8 479.35,303.51 479.6,304.36 479.85,313.13 480.1,310.82 480.35,318.96 480.6,315.73 480.85,316.46 481.1,322.12 481.35,315.97 481.6,321.13 481.85,323.06 482.1,315.39 482.35,328.2 482.6,328.37 482.85,321.03 483.1,331.16 483.35,329.95 483.6,330.39 483.85,325.21 484.1,322.5 484.35,332.28 484.6,329.14 484.85,321.61 485.1,330.14 485.35,328.47 485.6,332.58 485.85,329.75 486.1,329.6 486.35,330.3 486.6,328.85 486.85,322.39 487.1,318.18 487.35,317.13 487.6,312.2 487.85,315.69 488.1,310.44 488.35,303.84 488.6,300.25 488.8,299.3 488.8,299.3 488.85,299.34 489.1,302.55 489.35,307.34 489.6,310.86 489.85,313.31 490.1,317.72 490.35,321.11 490.6,327.14 490.85,320.09 491.1,325.64 491.35,323.5 491.6,331.77 491.85,333.7 492,341 492.1,325.1 492.35,328.18 492.6,326.08 492.85,317.9 493.1,321.53 493.35,323.44 493.6,319.98 493.85,328.42 494.1,330.39 494.35,320.77 494.6,327.05 494.85,325.62 495.1,319.88 495.35,329.8 495.6,329.78 495.85,317.5 496.1,321.24 496.35,334.51 496.6,335.3 496.85,318.68 497.1,326.17 497.35,315.75 497.6,312.76 497.85,330.66 498.1,331.22 498.35,324.9 498.6,318.87 498.85,318.37 498.9,318.3 498.9,318.3 499.1,319.62 499.35,322.82 499.6,328.41 499.85,324.2 500.1,328.96 500.2,351 500.35,343.06 500.6,335.43 500.85,330.68 501.1,327.21 501.35,317.32 501.6,320.47 501.85,321.1 502.1,327.72 502.35,319.28 502.6,337.11 502.85,336.47 503.1,341.93 503.35,337.85 503.6,338.51 503.85,323.7 504.1,339.7 504.35,330.6 504.6,318.52 504.85,326.42 505.1,323.62 505.35,329.93 505.6,328.53 505.85,320.05 506.1,324.95 506.35,311.2 506.6,329.22 506.85,327.69 507.1,314.01 507.35,327.13 507.6,330.29 507.85,321.83 508.1,326.39 508.35,339.83 508.6,320.97 508.85,334.77 509.1,330.75 509.35,332.68 509.6,327.1 509.85,329.97 510.1,318.09 510.35,320.31 510.6,323.98 510.85,329.83 511.1,322.76 511.35,334.38 511.6,324.39 511.85,324.06 512.1,330.52 512.35,328.03 512.6,314.82 512.85,313.57 513.1,325.04 513.35,314.32 513.6,326.08 513.85,315.44 514.1,312.78 514.35,315.85 514.6,313.88 514.85,315.51 515.1,319.89 515.35,329.51 515.6,321.2 515.85,318.9 516.1,312.86 516.35,309.17 516.6,306.9 516.6,306.9 516.6,306.9 516.85,309 517.1,312.59 517.35,314.41 517.6,324.61 517.85,321.83 518.1,327.2 518.35,325.11 518.6,318.11 518.85,322.5 519.1,334.96 519.35,325.51 519.6,331.62 519.85,323.58 520.1,336.21 520.35,327.54 520.6,327.26 520.85,316.89 521.1,327.79 521.35,333.18 521.6,330.03 521.7,348.7 521.85,327.39 522.1,334.01 522.35,317.01 522.6,332.13 522.85,330.45 523.1,320.5 523.35,318.94 523.6,323.82 523.85,319.39 524.1,317.54 524.35,311.38 524.6,306.9 524.85,306.17 525.1,300.21 525.35,296.42 525.5,295.5 525.5,295.5 525.6,295.57 525.85,298.55 526.1,302.77 526.35,308.31 526.6,311.32 526.85,319.44 527.1,318.89 527.35,321.55 527.6,322.63 527.85,319.72 528.1,315.96 528.35,322.83 528.6,325.63 528.85,318.47 529.1,332.65 529.35,323.89 529.6,316.87 529.85,319.35 530.1,314.61 530.35,313.36 530.6,310.3 530.85,314.53 531.1,310.47 531.35,324.7 531.6,309.93 531.85,318.07 532.1,322.72 532.35,312.76 532.6,351 532.6,322.78 532.85,323.1 533.1,323.56 533.35,317.4 533.6,314.95 533.85,316.26 534.1,307.81 534.35,306.47 534.6,305.9 534.85,298.3 535.1,294.08 535.35,289.68 535.6,287.9 535.6,287.9 535.6,287.9 535.85,290.07 536.1,294.19 536.35,298.37 536.6,302.7 536.85,307.15 537.1,302.83 537.35,300.67 537.6,310.96 537.85,316.67 538.1,311.67 538.35,323.7 538.6,310.75 538.85,301.65 539.1,313.69 539.35,320.06 539.6,319.58 539.85,313.07 540.1,308.02 540.35,315.76 540.6,312.59 540.85,315.86 541.1,310.9 541.35,311.02 541.6,303.62 541.85,307.18 542.1,310.78 542.35,305.01 542.6,308.51 542.85,305.19 543.1,307.3 543.35,306.46 543.6,300.35 543.85,302.57 544.1,304.35 544.35,301.5 544.6,298.3 544.85,293.59 545.1,290.43 545.35,290.01 545.6,287.53 545.85,282.93 546.1,277.8 546.35,272.35 546.6,269.26 546.7,268.7 546.7,268.7 546.85,269.76 547.1,273.62 547.35,278.84 547.6,281.83 547.85,286.99 548.1,287.44 548.35,296.25 548.6,294.84 548.85,300.49 549.1,296.72 549.3,335.3 549.35,298.53 549.6,301.43 549.85,304.4 550.1,304.55 550.35,300.52 550.6,306.3 550.85,298.44 551.1,306.75 551.35,308.8 551.6,306.34 551.85,303.99 552.1,305.37 552.35,303.97 552.6,301.71 552.85,300.88 553.1,302.28 553.35,301.09 553.6,300.29 553.85,291.28 554.1,300.75 554.35,299.25 554.6,290.36 554.85,296.48 555.1,292.31 555.35,294.94 555.6,291.53 555.85,290.75 556.1,287.78 556.35,284.97 556.6,281.2 556.85,277.25 557.1,271.91 557.35,267.25 557.6,262.12 557.85,260.21 557.9,260.1 557.9,260.1 558.1,261.62 558.35,265.69 558.6,269.62 558.85,275.55 559.1,282 559.35,279.74 559.6,287.65 559.85,292.57 560.1,288 560.35,289.86 560.6,291.61 560.85,297.69 561.1,291 561.35,296.2 561.6,294.84 561.85,295.01 562.1,294.81 562.35,293.63 562.6,299.01 562.85,300.28 563.1,304.63 563.35,302.49 563.6,302.95 563.85,304.97 564.1,305.38 564.35,301.7 564.6,307.81 564.85,298.06 565.1,303.1 565.35,308.35 565.6,303.61 565.85,305.27 566.1,299.12 566.35,304.1 566.6,300.96 566.85,295.17 567.1,289.77 567.35,288.25 567.6,284.88 567.85,279.14 568.1,274.41 568.35,270.62 568.5,270 568.5,270 568.6,270.49 568.85,272.87 569.1,279.17 569.35,283.47 569.6,286.18 569.85,293.58 570.1,292.09 570.35,294.49 570.6,302.13 570.85,305.41 571.1,297.66 571.35,303.56 571.6,303.21 571.85,306.38 572.1,309.29 572.35,310.37 572.6,309.65 572.85,308.39 573.1,308.76 573.35,301.64 573.6,308.17 573.85,309.95 574.1,302.79 574.35,309.66 574.6,315.25 574.85,312.06 575,335 575.1,317.42 575.35,319.38 575.6,313.21 575.85,317.56 576.1,312.55 576.35,315.11 576.6,318.37 576.85,310.71 577.1,310.34 577.35,313.77 577.6,310.95 577.85,308.19 578.1,301.89 578.35,295.73 578.6,295.79 578.85,291.18 579.1,285.08 579.35,281.32 579.5,280.7 579.5,280.7 579.6,281.03 579.85,284.61 580.1,287.5 580.35,293.4 580.6,295.02 580.85,302.02 581.1,305.05 581.35,307.95 581.6,308.78 581.85,309.37 582.1,316.27 582.35,317.73 582.6,309.23 582.85,319.75 583.1,315.85 583.35,308.33 583.6,308.09 583.85,307.15 584.1,319.48 584.35,321.03 584.6,309.89 584.85,314.72 585.1,321.08 585.35,312.8 585.6,315.1 585.85,314.09 586.1,316.58 586.35,307.01 586.6,319.81 586.85,310.27 587.1,321.16 587.35,311.28 587.6,318.88 587.85,308.53 588.1,320.73 588.35,329.57 588.6,319.23 588.85,322.35 589.1,322.84 589.35,316.87 589.6,315.05 589.85,308.95 590.1,306.24 590.35,302.21 590.6,298.28 590.7,298 590.7,298 590.85,298.97 591.1,303.12 591.35,307.27 591.6,311.4 591.85,313.75 592.1,319.3 592.35,320.43 592.6,315.36 592.85,327.29 593.1,321.03 593.35,326.04 593.6,332.57 593.85,326.34 594.1,328.96 594.35,330.76 594.6,333.48 594.85,325.74 595.1,326.7 595.35,327.27 595.6,330.7 595.85,341.06 596.1,329.14 596.35,318.46 596.6,325.81 596.85,325.41 597.1,330.09 597.35,335.14 597.6,320.9 597.85,339.24 598,351 598.1,337.12 598.35,336.17 598.6,338.79 598.85,325.77 599.1,323.38 599.35,323.28 599.6,317.41 599.85,333.82 600.1,329.42 600.35,339.33 600.6,332.83 600.85,332.37 601.1,327.17 601.35,330.78 601.6,329.84 601.85,312.51 602.1,326.22 602.35,328.98 602.6,326.4 602.85,325.9 603.1,326.01 603.35,319.26 603.6,309.34 603.85,319.56 604.1,325.74 604.35,324.9 604.6,332.59 604.85,333.77 605.1,335.55 605.35,333.49 605.6,340.4 605.85,324.71 606.1,318.12 606.35,336.87 606.6,321.19 606.85,334.22 607,343 607.1,333.03 607.35,318.37 607.6,316.93 607.85,323.96 608.1,313.48 608.35,333.06 608.6,331.88 608.85,331.72 609.1,331.05 609.35,339.98 609.6,330.73 609.85,340.65 610.1,340.79 610.35,324.12 610.6,334.33 610.85,318.73 611.1,324.35 611.35,335.23 611.6,332.42 611.85,336.77 612.1,336.31 612.35,324.8 612.6,337.77 612.85,337.85 613.1,338.39 613.35,323.42 613.6,321.83 613.85,332.29 614.1,325.19 614.35,326.46 614.6,335.04 614.85,314.81 615.1,318.28 615.35,317.62 615.6,321.81 615.85,315.66 616.1,313.3 616.35,307.69 616.6,304.37 616.7,304.2 616.7,304.2 616.85,305.04 617.1,309.31 617.35,311.58 617.6,316.79 617.85,324.41 618.1,321.57 618.35,325.52 618.6,331.11 618.85,321.05 619.1,332.58 619.35,330 619.6,330.06 619.85,334.09 620.1,328.91 620.35,339.01 620.6,342.66 620.85,319.36 621,345 621.1,324.5 621.35,328 621.6,316.63 621.85,320.35 622.1,313.93 622.35,317.12 622.6,322.05 622.85,322.72 623.1,318.74 623.35,330.34 623.6,326.01 623.85,329.5 624.1,327.63 624.35,313.07 624.6,329.42 624.85,332.71 625.1,337.65 625.35,330.89 625.6,329.65 625.85,320.04 626.1,328.26 626.35,325.46 626.6,319.68 626.85,316.49 627.1,313.75 627.2,313.2 627.2,313.2 627.35,313.91 627.6,318.18 627.85,321.01 628.1,329.13 628.35,329.04 628.6,316.89 628.85,326.11 629.1,333.08 629.35,336.88 629.6,332.42 629.85,328.69 630.1,329.95 630.35,326 630.6,336.25 630.85,333.65 631.1,328.18 631.35,335.69 631.6,326.12 631.85,328.89 632.1,342.09 632.35,336.99 632.6,332.84 632.85,325.13 633.1,331.35 633.35,328.41 633.6,320.85 633.85,318.19 634.1,314.53 634.2,314 634.2,314 634.35,314.94 634.6,317.31 634.85,323.91 635.1,328.8 635.35,323.31 635.6,324.27 635.85,318.21 636.1,339.85 636.35,343.91 636.6,331.6 636.85,334.26 637.1,337.6 637.35,341.68 637.6,343.4 637.85,338.47 638.1,340.63 638.35,326.66 638.6,332.49 638.85,326.55 639.1,332.18 639.35,320.67 639.6,326.93 639.85,317.28 640,347 640.1,315.91 640.35,324.29 640.6,325.75 640.85,340.08 641.1,320.93 641.35,336.42 641.6,332.81 641.85,329.79 642.1,324.41 642.35,326.8 642.6,343.26 642.85,338.54 643.1,324.64 643.35,319.33 643.6,331.22 643.85,336.89 644.1,338.01 644.35,340.02 644.6,336.96 644.85,320.66 645.1,331.35 645.35,325.76 645.6,337.78 645.85,323.49 646.1,331.7 646.35,334.79 646.6,322.42 646.85,329.69 647.1,322.74 647.35,316.12 647.6,328.16 647.85,328.79 648.1,327.4 648.35,336.77 648.6,336.82 648.85,330.56 649.1,331.84 649.35,333.17 649.6,327.52 649.85,337.08 650.1,329.89 650.35,336.17 650.6,331.41 650.85,325.26 651.1,336.86 651.35,323.68 651.6,326.89 651.85,326.32 652,342 652.1,317.88 652.35,321.04 652.6,321.24 652.85,315.84 653.1,332.87 653.35,326.29 653.6,326.68 653.85,326.45 654.1,332.36 654.35,329.22 654.6,324.2 654.85,318.31 655.1,314.8 655.3,313.2 655.3,313.2 655.35,313.19 655.6,315.85 655.85,320.93 656.1,324.07 656.35,327.48 656.6,324.27 656.85,325.67 657.1,336.86 657.35,331.95 657.6,332.89 657.85,330.12 658.1,337.48 658.35,323.45 658.6,319.51 658.85,340.66 659.1,326.43 659.35,330.3 659.6,327.73 659.85,322.45 660.1,331.61 660.35,329.15 660.6,327.6 660.85,316.74 661.1,329.43 661.35,319.62 661.6,330.99 661.85,329.39 662.1,322.27 662.35,332.53 662.6,325.17 662.85,314.3 663,351 663.1,332.88 663.35,323.79 663.6,334.7 663.85,333.34 664.1,330.84 664.35,341 664.6,335.32 664.85,328.88 665.1,341.77 665.35,321.76 665.6,329.22 665.85,328.17 666.1,332.98 666.35,334.45 666.6,321 666.85,314.58 667.1,326.54 667.35,312.4"/>
</g>
<rect x="31" y="19.4" width="235.3" height="107.6" fill="none" stroke="#222" stroke-width="1"/>
<rect x="31" y="130.8" width="235.3" height="107.6" fill="none" stroke="#222" stroke-width="1"/>
<rect x="31" y="242.4" width="235.3" height="107.6" fill="none" stroke="#222" stroke-width="1"/>
<rect x="431.6" y="19.5" width="235.9" height="107.4" fill="none" stroke="#222" stroke-width="1"/>
<rect x="431.6" y="131.2" width="235.9" height="107.4" fill="none" stroke="#222" stroke-width="1"/>
<rect x="431.6" y="242.1" width="235.9" height="107.4" fill="none" stroke="#222" stroke-width="1"/>
<path d="M31 121.5h3.8M266.3 121.5h-3M31 24.2h3.8M266.3 24.2h-3M57.14 127v-1.8M83.29 127v-3.8M109.43 127v-1.8M135.58 127v-3.8M161.72 127v-1.8M187.87 127v-3.8M214.01 127v-1.8M240.16 127v-3.8M31 232.9h3.8M266.3 232.9h-3M31 135.6h3.8M266.3 135.6h-3M57.14 238.4v-1.8M57.14 130.8v1.8M83.29 238.4v-3.8M83.29 130.8v3.8M109.43 238.4v-1.8M109.43 130.8v1.8M135.58 238.4v-3.8M135.58 130.8v3.8M161.72 238.4v-1.8M161.72 130.8v1.8M187.87 238.4v-3.8M187.87 130.8v3.8M214.01 238.4v-1.8M214.01 130.8v1.8M240.16 238.4v-3.8M240.16 130.8v3.8M31 344.5h3.8M266.3 344.5h-3M31 247.2h3.8M266.3 247.2h-3M57.14 350v-1.8M57.14 242.4v1.8M83.29 350v-3.8M83.29 242.4v3.8M109.43 350v-1.8M109.43 242.4v1.8M135.58 350v-3.8M135.58 242.4v3.8M161.72 350v-1.8M161.72 242.4v1.8M187.87 350v-3.8M187.87 242.4v3.8M214.01 350v-1.8M214.01 242.4v1.8M240.16 350v-3.8M240.16 242.4v3.8M431.6 117.7h3.6M431.6 125.77h1.8M431.6 123.65h1.8M431.6 121.85h1.8M431.6 120.3h1.8M431.6 118.93h1.8M431.6 90.9h3.6M431.6 109.63h1.8M431.6 104.91h1.8M431.6 101.56h1.8M431.6 98.97h1.8M431.6 96.85h1.8M431.6 95.05h1.8M431.6 93.5h1.8M431.6 92.13h1.8M431.6 64.1h3.6M431.6 82.83h1.8M431.6 78.11h1.8M431.6 74.76h1.8M431.6 72.17h1.8M431.6 70.05h1.8M431.6 68.25h1.8M431.6 66.7h1.8M431.6 65.33h1.8M431.6 37.3h3.6M431.6 56.03h1.8M431.6 51.31h1.8M431.6 47.96h1.8M431.6 45.37h1.8M431.6 43.25h1.8M431.6 41.45h1.8M431.6 39.9h1.8M431.6 38.53h1.8M431.6 29.23h1.8M431.6 24.51h1.8M431.6 21.16h1.8M451.26 126.9v-1.8M470.92 126.9v-3.6M490.58 126.9v-1.8M510.23 126.9v-3.6M529.89 126.9v-1.8M549.55 126.9v-3.6M569.21 126.9v-1.8M588.87 126.9v-3.6M608.53 126.9v-1.8M628.18 126.9v-3.6M647.84 126.9v-1.8M431.6 229.4h3.6M431.6 237.47h1.8M431.6 235.35h1.8M431.6 233.55h1.8M431.6 232h1.8M431.6 230.63h1.8M431.6 202.6h3.6M431.6 221.33h1.8M431.6 216.61h1.8M431.6 213.26h1.8M431.6 210.67h1.8M431.6 208.55h1.8M431.6 206.75h1.8M431.6 205.2h1.8M431.6 203.83h1.8M431.6 175.8h3.6M431.6 194.53h1.8M431.6 189.81h1.8M431.6 186.46h1.8M431.6 183.87h1.8M431.6 181.75h1.8M431.6 179.95h1.8M431.6 178.4h1.8M431.6 177.03h1.8M431.6 149h3.6M431.6 167.73h1.8M431.6 163.01h1.8M431.6 159.66h1.8M431.6 157.07h1.8M431.6 154.95h1.8M431.6 153.15h1.8M431.6 151.6h1.8M431.6 150.23h1.8M431.6 140.93h1.8M431.6 136.21h1.8M431.6 132.86h1.8M451.26 238.6v-1.8M470.92 238.6v-3.6M470.92 131.2v3.6M490.58 238.6v-1.8M510.23 238.6v-3.6M510.23 131.2v3.6M529.89 238.6v-1.8M549.55 238.6v-3.6M549.55 131.2v3.6M569.21 238.6v-1.8M588.87 238.6v-3.6M588.87 131.2v3.6M608.53 238.6v-1.8M628.18 238.6v-3.6M628.18 131.2v3.6M647.84 238.6v-1.8M431.6 340.3h3.6M431.6 348.37h1.8M431.6 346.25h1.8M431.6 344.45h1.8M431.6 342.9h1.8M431.6 341.53h1.8M431.6 313.5h3.6M431.6 332.23h1.8M431.6 327.51h1.8M431.6 324.16h1.8M431.6 321.57h1.8M431.6 319.45h1.8M431.6 317.65h1.8M431.6 316.1h1.8M431.6 314.73h1.8M431.6 286.7h3.6M431.6 305.43h1.8M431.6 300.71h1.8M431.6 297.36h1.8M431.6 294.77h1.8M431.6 292.65h1.8M431.6 290.85h1.8M431.6 289.3h1.8M431.6 287.93h1.8M431.6 259.9h3.6M431.6 278.63h1.8M431.6 273.91h1.8M431.6 270.56h1.8M431.6 267.97h1.8M431.6 265.85h1.8M431.6 264.05h1.8M431.6 262.5h1.8M431.6 261.13h1.8M431.6 251.83h1.8M431.6 247.11h1.8M431.6 243.76h1.8M470.92 349.5v-3.6M470.92 242.1v3.6M510.23 349.5v-3.6M510.23 242.1v3.6M549.55 349.5v-3.6M549.55 242.1v3.6M588.87 349.5v-3.6M588.87 242.1v3.6M628.18 349.5v-3.6M628.18 242.1v3.6" stroke="#222" stroke-width="0.9" fill="none"/>
<text x="26.3" y="125.5" text-anchor="end" font-size="11.4">0</text>
<text x="26.3" y="26.6" text-anchor="end" font-size="11.4">1</text>
<text x="426.3" y="41.2" text-anchor="end" font-size="11.4">10<tspan font-size="7.6" dx="0.4" dy="-5">0</tspan></text>
<text x="426.3" y="68.3" text-anchor="end" font-size="11.4">10<tspan font-size="7.6" dx="0.4" dy="-5">−1</tspan></text>
<text x="426.3" y="93.7" text-anchor="end" font-size="11.4">10<tspan font-size="7.6" dx="0.4" dy="-5">−2</tspan></text>
<text x="426.3" y="118.95" text-anchor="end" font-size="11.4">10<tspan font-size="7.6" dx="0.4" dy="-5">−3</tspan></text>
<text x="26.3" y="236.9" text-anchor="end" font-size="11.4">0</text>
<text x="26.3" y="138" text-anchor="end" font-size="11.4">1</text>
<text x="426.3" y="153.1" text-anchor="end" font-size="11.4">10<tspan font-size="7.6" dx="0.4" dy="-5">0</tspan></text>
<text x="426.3" y="180.1" text-anchor="end" font-size="11.4">10<tspan font-size="7.6" dx="0.4" dy="-5">−1</tspan></text>
<text x="426.3" y="205.1" text-anchor="end" font-size="11.4">10<tspan font-size="7.6" dx="0.4" dy="-5">−2</tspan></text>
<text x="426.3" y="232.7" text-anchor="end" font-size="11.4">10<tspan font-size="7.6" dx="0.4" dy="-5">−3</tspan></text>
<text x="26.3" y="348.5" text-anchor="end" font-size="11.4">0</text>
<text x="26.3" y="249.6" text-anchor="end" font-size="11.4">1</text>
<text x="426.3" y="263.7" text-anchor="end" font-size="11.4">10<tspan font-size="7.6" dx="0.4" dy="-5">0</tspan></text>
<text x="426.3" y="290.7" text-anchor="end" font-size="11.4">10<tspan font-size="7.6" dx="0.4" dy="-5">−1</tspan></text>
<text x="426.3" y="316.3" text-anchor="end" font-size="11.4">10<tspan font-size="7.6" dx="0.4" dy="-5">−2</tspan></text>
<text x="426.3" y="344" text-anchor="end" font-size="11.4">10<tspan font-size="7.6" dx="0.4" dy="-5">−3</tspan></text>
<text x="31" y="363.8" text-anchor="middle" font-size="11.4">1000</text>
<text x="83.29" y="363.8" text-anchor="middle" font-size="11.4">1100</text>
<text x="135.58" y="363.8" text-anchor="middle" font-size="11.4">1200</text>
<text x="187.87" y="363.8" text-anchor="middle" font-size="11.4">1300</text>
<text x="240.16" y="363.8" text-anchor="middle" font-size="11.4">1400</text>
<text x="431.6" y="363.7" text-anchor="middle" font-size="11.4">2.3</text>
<text x="510.23" y="363.7" text-anchor="middle" font-size="11.4">2.4</text>
<text x="588.87" y="363.7" text-anchor="middle" font-size="11.4">2.5</text>
<text x="667.5" y="363.7" text-anchor="middle" font-size="11.4">2.6</text>
<text x="135.45" y="379.5" text-anchor="middle" textLength="47.45" lengthAdjust="spacingAndGlyphs">Time (ps)</text>
<text x="538.9" y="379.5" text-anchor="middle" textLength="86.97" lengthAdjust="spacingAndGlyphs">Frequency (THz)</text>
<text transform="translate(9.6 190.25) rotate(-90)" text-anchor="middle" textLength="180.36" lengthAdjust="spacingAndGlyphs">Normalized E-field amplitude (a. u.)</text>
<text transform="translate(396.3 190.75) rotate(-90)" text-anchor="middle" textLength="185.15" lengthAdjust="spacingAndGlyphs">Normalized spectra amplitude (a. u.)</text>
<text transform="translate(282.1 73.35) rotate(-90)" text-anchor="middle" textLength="32.68" lengthAdjust="spacingAndGlyphs">No RF</text>
<text transform="translate(282 186.1) rotate(-90)" text-anchor="middle" textLength="48.76" lengthAdjust="spacingAndGlyphs">6.51 GHz</text>
<text transform="translate(282 303.1) rotate(-90)" text-anchor="middle" textLength="53.82" lengthAdjust="spacingAndGlyphs">13.80 GHz</text>
<text transform="translate(684.4 74.25) rotate(-90)" text-anchor="middle" textLength="32.37" lengthAdjust="spacingAndGlyphs">No RF</text>
<text transform="translate(684.6 184.75) rotate(-90)" text-anchor="middle" textLength="48.76" lengthAdjust="spacingAndGlyphs">6.51 GHz</text>
<text transform="translate(684.6 294.75) rotate(-90)" text-anchor="middle" textLength="52.69" lengthAdjust="spacingAndGlyphs">13.80 GHz</text>
<text x="334.95" y="62.1" text-anchor="middle" textLength="22.91" lengthAdjust="spacingAndGlyphs" fill="#000">Free</text>
<text x="334.45" y="75.5" text-anchor="middle" textLength="37.99" lengthAdjust="spacingAndGlyphs" fill="#000">running</text>
<text x="334.75" y="88.9" text-anchor="middle" textLength="23.21" lengthAdjust="spacingAndGlyphs" fill="#000">QCL</text>
<text x="334.9" y="185.8" text-anchor="middle" textLength="67.11" lengthAdjust="spacingAndGlyphs" fill="#ff0000">Fundamental</text>
<text x="334.75" y="199.2" text-anchor="middle" textLength="64.5" lengthAdjust="spacingAndGlyphs" fill="#ff0000">modelocking</text>
<text x="334.65" y="289.8" text-anchor="middle" textLength="19.87" lengthAdjust="spacingAndGlyphs" fill="#ff8000">2nd</text>
<text x="334.95" y="303.3" text-anchor="middle" textLength="49.15" lengthAdjust="spacingAndGlyphs" fill="#ff8000">Harmonic</text>
<text x="334.75" y="316.8" text-anchor="middle" textLength="64.5" lengthAdjust="spacingAndGlyphs" fill="#ff8000">modelocking</text>
<text x="-0.3" y="11.3" font-size="15.6" font-weight="bold">a</text>
<text x="387.3" y="11.6" font-size="16.2" font-weight="bold">b</text>
</svg>
</body></html>
